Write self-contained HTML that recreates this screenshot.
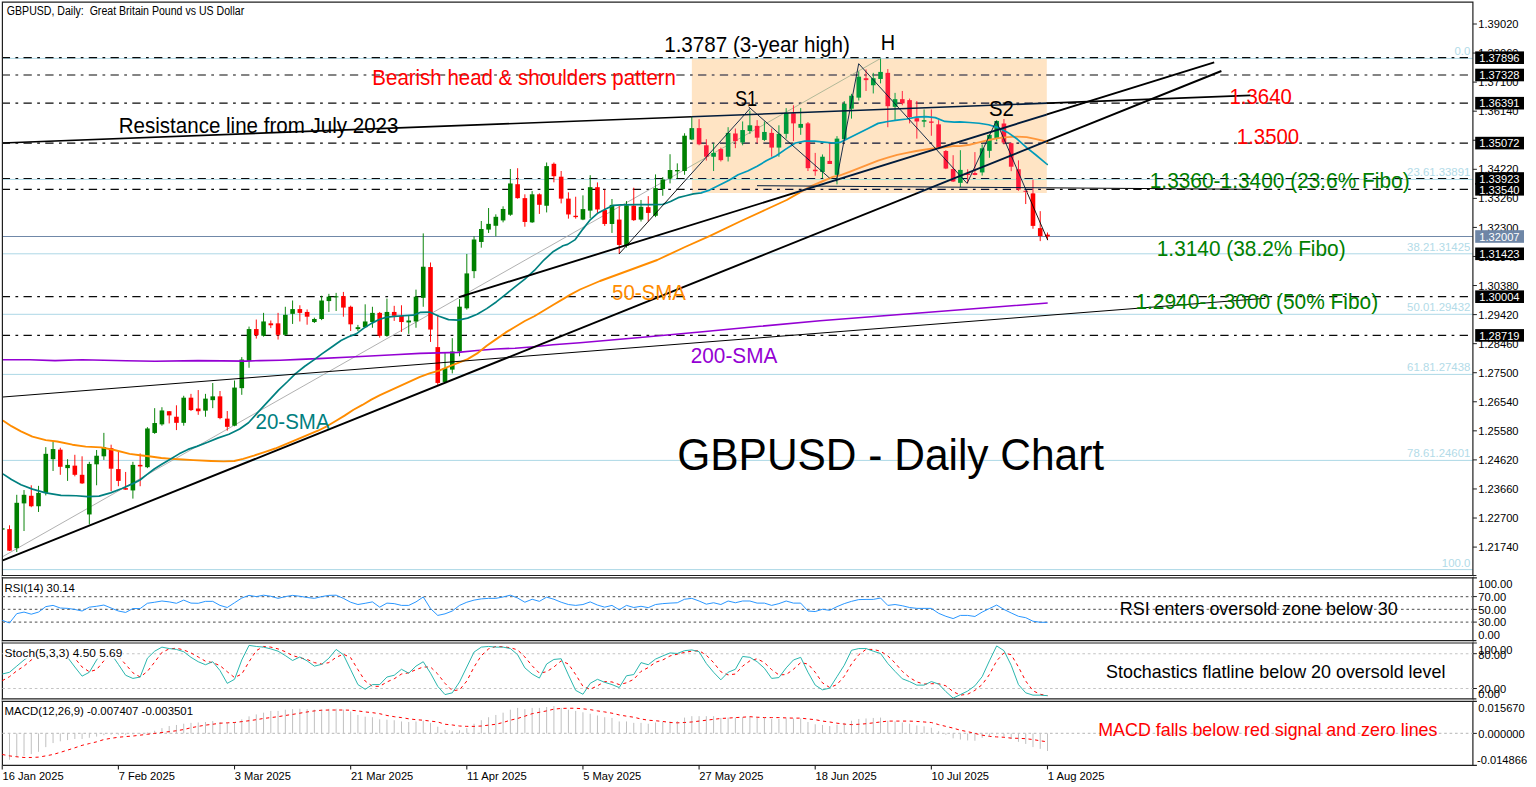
<!DOCTYPE html><html><head><meta charset="utf-8"><title>GBPUSD Daily</title>
<style>html,body{margin:0;padding:0;background:#fff;}svg{display:block;font-family:"Liberation Sans",sans-serif;}</style></head><body>
<svg width="1536" height="787" viewBox="0 0 1536 787">
<rect width="1536" height="787" fill="#fff"/>
<defs><clipPath id="rc"><rect x="691.6" y="58.9" width="355.30000000000007" height="134.2"/></clipPath>
<clipPath id="mc"><rect x="2.4" y="2" width="1470.5" height="574"/></clipPath></defs>
<g clip-path="url(#mc)">
<line x1="2.4" y1="58.4" x2="1472.9" y2="58.4" stroke="#ADD8E6" stroke-width="1"/>
<line x1="2.4" y1="179.4" x2="1472.9" y2="179.4" stroke="#ADD8E6" stroke-width="1"/>
<line x1="2.4" y1="253.8" x2="1472.9" y2="253.8" stroke="#ADD8E6" stroke-width="1"/>
<line x1="2.4" y1="314.3" x2="1472.9" y2="314.3" stroke="#ADD8E6" stroke-width="1"/>
<line x1="2.4" y1="374.4" x2="1472.9" y2="374.4" stroke="#ADD8E6" stroke-width="1"/>
<line x1="2.4" y1="460.4" x2="1472.9" y2="460.4" stroke="#ADD8E6" stroke-width="1"/>
<line x1="2.4" y1="569.6" x2="1472.9" y2="569.6" stroke="#ADD8E6" stroke-width="1"/>
<line x1="2.4" y1="236.5" x2="1472.9" y2="236.5" stroke="#7088A8" stroke-width="1"/>
<line x1="1.74" y1="57.7" x2="1472.9" y2="57.7" stroke="#0a0a0a" stroke-width="1.2" stroke-dasharray="8.3 5.4 2.75 5.31"/>
<line x1="1.74" y1="75" x2="1472.9" y2="75" stroke="#0a0a0a" stroke-width="1.2" stroke-dasharray="8.3 5.4 2.75 5.31"/>
<line x1="1.74" y1="103.2" x2="1472.9" y2="103.2" stroke="#0a0a0a" stroke-width="1.2" stroke-dasharray="8.3 5.4 2.75 5.31"/>
<line x1="1.74" y1="143.1" x2="1472.9" y2="143.1" stroke="#0a0a0a" stroke-width="1.2" stroke-dasharray="8.3 5.4 2.75 5.31"/>
<line x1="1.74" y1="178.5" x2="1472.9" y2="178.5" stroke="#0a0a0a" stroke-width="1.2" stroke-dasharray="8.3 5.4 2.75 5.31"/>
<line x1="1.74" y1="189.3" x2="1472.9" y2="189.3" stroke="#0a0a0a" stroke-width="1.2" stroke-dasharray="8.3 5.4 2.75 5.31"/>
<line x1="1.74" y1="296.7" x2="1472.9" y2="296.7" stroke="#0a0a0a" stroke-width="1.2" stroke-dasharray="8.3 5.4 2.75 5.31"/>
<line x1="1.74" y1="335.4" x2="1472.9" y2="335.4" stroke="#0a0a0a" stroke-width="1.2" stroke-dasharray="8.3 5.4 2.75 5.31"/>
<line x1="2.4" y1="556.8" x2="880.3" y2="58.6" stroke="#A8A8A8" stroke-width="0.9"/>
<line x1="9.5" y1="525.3" x2="9.5" y2="551.03" stroke="#FF0000" stroke-width="0.95"/>
<rect x="7.2" y="529.12" width="4.6" height="21.54" fill="#FF0000"/>
<line x1="16.76" y1="494.81" x2="16.76" y2="551.99" stroke="#008000" stroke-width="0.95"/>
<rect x="14.46" y="502.81" width="4.6" height="45.36" fill="#008000"/>
<line x1="24.02" y1="490.05" x2="24.02" y2="531.02" stroke="#008000" stroke-width="0.95"/>
<rect x="21.72" y="494.81" width="4.6" height="8.58" fill="#008000"/>
<line x1="31.27" y1="485.28" x2="31.27" y2="507.2" stroke="#FF0000" stroke-width="0.95"/>
<rect x="28.97" y="495.76" width="4.6" height="10.48" fill="#FF0000"/>
<line x1="38.53" y1="485.85" x2="38.53" y2="511.96" stroke="#008000" stroke-width="0.95"/>
<rect x="36.23" y="492.9" width="4.6" height="13.34" fill="#008000"/>
<line x1="45.79" y1="447.16" x2="45.79" y2="495.38" stroke="#008000" stroke-width="0.95"/>
<rect x="43.49" y="453.83" width="4.6" height="39.07" fill="#008000"/>
<line x1="53.05" y1="441.45" x2="53.05" y2="470.99" stroke="#008000" stroke-width="0.95"/>
<rect x="50.75" y="449.07" width="4.6" height="10.1" fill="#008000"/>
<line x1="60.31" y1="447.74" x2="60.31" y2="474.8" stroke="#FF0000" stroke-width="0.95"/>
<rect x="58.01" y="449.64" width="4.6" height="17.15" fill="#FF0000"/>
<line x1="67.57" y1="459.17" x2="67.57" y2="480.9" stroke="#008000" stroke-width="0.95"/>
<rect x="65.27" y="464.89" width="4.6" height="3.24" fill="#008000"/>
<line x1="74.83" y1="454.79" x2="74.83" y2="476.32" stroke="#FF0000" stroke-width="0.95"/>
<rect x="72.53" y="465.65" width="4.6" height="9.15" fill="#FF0000"/>
<line x1="82.09" y1="456.31" x2="82.09" y2="483.95" stroke="#FF0000" stroke-width="0.95"/>
<rect x="79.79" y="474.8" width="4.6" height="8.58" fill="#FF0000"/>
<line x1="89.34" y1="461.84" x2="89.34" y2="524.35" stroke="#008000" stroke-width="0.95"/>
<rect x="87.04" y="463.94" width="4.6" height="50.51" fill="#008000"/>
<line x1="96.6" y1="450.02" x2="96.6" y2="485.28" stroke="#008000" stroke-width="0.95"/>
<rect x="94.3" y="455.74" width="4.6" height="8.58" fill="#008000"/>
<line x1="103.86" y1="432.87" x2="103.86" y2="459.93" stroke="#008000" stroke-width="0.95"/>
<rect x="101.56" y="447.16" width="4.6" height="9.15" fill="#008000"/>
<line x1="111.12" y1="444.69" x2="111.12" y2="491" stroke="#FF0000" stroke-width="0.95"/>
<rect x="108.82" y="448.12" width="4.6" height="20.58" fill="#FF0000"/>
<line x1="118.38" y1="450.98" x2="118.38" y2="486.23" stroke="#FF0000" stroke-width="0.95"/>
<rect x="116.08" y="469.08" width="4.6" height="11.82" fill="#FF0000"/>
<line x1="125.64" y1="471.94" x2="125.64" y2="489.66" stroke="#FF0000" stroke-width="0.95"/>
<rect x="123.34" y="488.14" width="4.6" height="1.52" fill="#FF0000"/>
<line x1="132.9" y1="461.84" x2="132.9" y2="498.62" stroke="#008000" stroke-width="0.95"/>
<rect x="130.6" y="464.89" width="4.6" height="25.54" fill="#008000"/>
<line x1="140.16" y1="453.45" x2="140.16" y2="486.23" stroke="#FF0000" stroke-width="0.95"/>
<rect x="137.86" y="464.89" width="4.6" height="1.52" fill="#FF0000"/>
<line x1="147.41" y1="427.15" x2="147.41" y2="468.13" stroke="#008000" stroke-width="0.95"/>
<rect x="145.11" y="428.49" width="4.6" height="38.69" fill="#008000"/>
<line x1="154.67" y1="408.16" x2="154.67" y2="433.89" stroke="#008000" stroke-width="0.95"/>
<rect x="152.37" y="423.03" width="4.6" height="9.91" fill="#008000"/>
<line x1="161.93" y1="407.21" x2="161.93" y2="425.7" stroke="#008000" stroke-width="0.95"/>
<rect x="159.63" y="410.45" width="4.6" height="13.91" fill="#008000"/>
<line x1="169.19" y1="411.02" x2="169.19" y2="423.41" stroke="#FF0000" stroke-width="0.95"/>
<rect x="166.89" y="411.21" width="4.6" height="4.19" fill="#FF0000"/>
<line x1="176.45" y1="405.3" x2="176.45" y2="430.08" stroke="#FF0000" stroke-width="0.95"/>
<rect x="174.15" y="416.74" width="4.6" height="6.1" fill="#FF0000"/>
<line x1="183.71" y1="395.77" x2="183.71" y2="425.7" stroke="#008000" stroke-width="0.95"/>
<rect x="181.41" y="397.68" width="4.6" height="25.16" fill="#008000"/>
<line x1="190.97" y1="393.87" x2="190.97" y2="411.02" stroke="#FF0000" stroke-width="0.95"/>
<rect x="188.67" y="397.68" width="4.6" height="12.39" fill="#FF0000"/>
<line x1="198.22" y1="390.06" x2="198.22" y2="414.83" stroke="#FF0000" stroke-width="0.95"/>
<rect x="195.92" y="408.54" width="4.6" height="2.67" fill="#FF0000"/>
<line x1="205.48" y1="393.87" x2="205.48" y2="416.74" stroke="#008000" stroke-width="0.95"/>
<rect x="203.18" y="398.63" width="4.6" height="12.01" fill="#008000"/>
<line x1="212.74" y1="383.01" x2="212.74" y2="408.16" stroke="#008000" stroke-width="0.95"/>
<rect x="210.44" y="396.35" width="4.6" height="3.81" fill="#008000"/>
<line x1="220" y1="391.01" x2="220" y2="419.22" stroke="#FF0000" stroke-width="0.95"/>
<rect x="217.7" y="396.35" width="4.6" height="21.73" fill="#FF0000"/>
<line x1="227.26" y1="411.02" x2="227.26" y2="430.65" stroke="#FF0000" stroke-width="0.95"/>
<rect x="224.96" y="418.64" width="4.6" height="8.2" fill="#FF0000"/>
<line x1="234.52" y1="380.53" x2="234.52" y2="426.27" stroke="#008000" stroke-width="0.95"/>
<rect x="232.22" y="387.58" width="4.6" height="38.12" fill="#008000"/>
<line x1="241.78" y1="357.09" x2="241.78" y2="394.82" stroke="#008000" stroke-width="0.95"/>
<rect x="239.48" y="359.56" width="4.6" height="28.59" fill="#008000"/>
<line x1="249.04" y1="326.59" x2="249.04" y2="367.76" stroke="#008000" stroke-width="0.95"/>
<rect x="246.74" y="329.07" width="4.6" height="31.83" fill="#008000"/>
<line x1="256.29" y1="319.54" x2="256.29" y2="338.6" stroke="#FF0000" stroke-width="0.95"/>
<rect x="253.99" y="329.07" width="4.6" height="6.1" fill="#FF0000"/>
<line x1="263.55" y1="312.87" x2="263.55" y2="336.69" stroke="#008000" stroke-width="0.95"/>
<rect x="261.25" y="321.45" width="4.6" height="14.29" fill="#008000"/>
<line x1="270.81" y1="320.49" x2="270.81" y2="328.12" stroke="#FF0000" stroke-width="0.95"/>
<rect x="268.51" y="323.35" width="4.6" height="1.91" fill="#FF0000"/>
<line x1="278.07" y1="312.87" x2="278.07" y2="339.55" stroke="#FF0000" stroke-width="0.95"/>
<rect x="275.77" y="323.35" width="4.6" height="11.44" fill="#FF0000"/>
<line x1="285.33" y1="306.79" x2="285.33" y2="335.76" stroke="#008000" stroke-width="0.95"/>
<rect x="283.03" y="314.8" width="4.6" height="20.01" fill="#008000"/>
<line x1="292.59" y1="300.51" x2="292.59" y2="323.95" stroke="#008000" stroke-width="0.95"/>
<rect x="290.29" y="309.08" width="4.6" height="4.76" fill="#008000"/>
<line x1="299.85" y1="305.27" x2="299.85" y2="321.47" stroke="#FF0000" stroke-width="0.95"/>
<rect x="297.55" y="309.08" width="4.6" height="3.81" fill="#FF0000"/>
<line x1="307.11" y1="309.46" x2="307.11" y2="324.71" stroke="#FF0000" stroke-width="0.95"/>
<rect x="304.81" y="311.94" width="4.6" height="4.76" fill="#FF0000"/>
<line x1="314.36" y1="317.66" x2="314.36" y2="322.99" stroke="#008000" stroke-width="0.95"/>
<rect x="312.06" y="318.99" width="4.6" height="3.05" fill="#008000"/>
<line x1="321.62" y1="295.74" x2="321.62" y2="320.14" stroke="#008000" stroke-width="0.95"/>
<rect x="319.32" y="300.51" width="4.6" height="18.49" fill="#008000"/>
<line x1="328.88" y1="293.83" x2="328.88" y2="311.94" stroke="#008000" stroke-width="0.95"/>
<rect x="326.58" y="296.69" width="4.6" height="4.38" fill="#008000"/>
<line x1="336.14" y1="292.88" x2="336.14" y2="310.99" stroke="#008000" stroke-width="0.95"/>
<rect x="333.84" y="296.31" width="4.6" height="1" fill="#008000"/>
<line x1="343.4" y1="291.93" x2="343.4" y2="316.7" stroke="#FF0000" stroke-width="0.95"/>
<rect x="341.1" y="296.12" width="4.6" height="11.44" fill="#FF0000"/>
<line x1="350.66" y1="305.65" x2="350.66" y2="331" stroke="#FF0000" stroke-width="0.95"/>
<rect x="348.36" y="306.79" width="4.6" height="17.53" fill="#FF0000"/>
<line x1="357.92" y1="324.9" x2="357.92" y2="331" stroke="#008000" stroke-width="0.95"/>
<rect x="355.62" y="327.19" width="4.6" height="1.91" fill="#008000"/>
<line x1="365.18" y1="304.32" x2="365.18" y2="327.76" stroke="#008000" stroke-width="0.95"/>
<rect x="362.88" y="321.47" width="4.6" height="5.72" fill="#008000"/>
<line x1="372.43" y1="306.79" x2="372.43" y2="327.76" stroke="#008000" stroke-width="0.95"/>
<rect x="370.13" y="312.89" width="4.6" height="9.15" fill="#008000"/>
<line x1="379.69" y1="311.94" x2="379.69" y2="337.67" stroke="#FF0000" stroke-width="0.95"/>
<rect x="377.39" y="312.89" width="4.6" height="22.87" fill="#FF0000"/>
<line x1="386.95" y1="298.6" x2="386.95" y2="336.72" stroke="#008000" stroke-width="0.95"/>
<rect x="384.65" y="311.94" width="4.6" height="23.82" fill="#008000"/>
<line x1="394.21" y1="305.84" x2="394.21" y2="320.9" stroke="#FF0000" stroke-width="0.95"/>
<rect x="391.91" y="311.94" width="4.6" height="3.81" fill="#FF0000"/>
<line x1="401.47" y1="305.27" x2="401.47" y2="331.95" stroke="#FF0000" stroke-width="0.95"/>
<rect x="399.17" y="315.75" width="4.6" height="6.29" fill="#FF0000"/>
<line x1="408.73" y1="315.75" x2="408.73" y2="333.86" stroke="#008000" stroke-width="0.95"/>
<rect x="406.43" y="320.52" width="4.6" height="1.91" fill="#008000"/>
<line x1="415.99" y1="289.64" x2="415.99" y2="327.76" stroke="#008000" stroke-width="0.95"/>
<rect x="413.69" y="296.69" width="4.6" height="24.78" fill="#008000"/>
<line x1="423.24" y1="233.39" x2="423.24" y2="306.76" stroke="#008000" stroke-width="0.95"/>
<rect x="420.94" y="266.74" width="4.6" height="31.07" fill="#008000"/>
<line x1="430.5" y1="262.49" x2="430.5" y2="341.96" stroke="#FF0000" stroke-width="0.95"/>
<rect x="428.2" y="267.06" width="4.6" height="62.51" fill="#FF0000"/>
<line x1="437.76" y1="315.28" x2="437.76" y2="384.84" stroke="#FF0000" stroke-width="0.95"/>
<rect x="435.46" y="347.11" width="4.6" height="35.83" fill="#FF0000"/>
<line x1="445.02" y1="352.45" x2="445.02" y2="382.56" stroke="#008000" stroke-width="0.95"/>
<rect x="442.72" y="368.07" width="4.6" height="13.91" fill="#008000"/>
<line x1="452.28" y1="338.15" x2="452.28" y2="373.41" stroke="#008000" stroke-width="0.95"/>
<rect x="449.98" y="351.49" width="4.6" height="18.11" fill="#008000"/>
<line x1="459.54" y1="299.08" x2="459.54" y2="356.26" stroke="#008000" stroke-width="0.95"/>
<rect x="457.24" y="306.7" width="4.6" height="44.79" fill="#008000"/>
<line x1="466.8" y1="253.97" x2="466.8" y2="309.62" stroke="#008000" stroke-width="0.95"/>
<rect x="464.5" y="273.41" width="4.6" height="34.88" fill="#008000"/>
<line x1="474.06" y1="236.25" x2="474.06" y2="278.17" stroke="#008000" stroke-width="0.95"/>
<rect x="471.76" y="239.49" width="4.6" height="31.64" fill="#008000"/>
<line x1="481.31" y1="221" x2="481.31" y2="247.68" stroke="#008000" stroke-width="0.95"/>
<rect x="479.01" y="229" width="4.6" height="12.96" fill="#008000"/>
<line x1="488.57" y1="208.04" x2="488.57" y2="233.01" stroke="#008000" stroke-width="0.95"/>
<rect x="486.27" y="223.86" width="4.6" height="5.72" fill="#008000"/>
<line x1="495.83" y1="214.33" x2="495.83" y2="236.25" stroke="#008000" stroke-width="0.95"/>
<rect x="493.53" y="216.81" width="4.6" height="8.96" fill="#008000"/>
<line x1="503.09" y1="206.32" x2="503.09" y2="222.33" stroke="#008000" stroke-width="0.95"/>
<rect x="500.79" y="208.99" width="4.6" height="11.44" fill="#008000"/>
<line x1="510.35" y1="168.97" x2="510.35" y2="215.85" stroke="#008000" stroke-width="0.95"/>
<rect x="508.05" y="183.45" width="4.6" height="31.26" fill="#008000"/>
<line x1="517.61" y1="168.21" x2="517.61" y2="198.7" stroke="#FF0000" stroke-width="0.95"/>
<rect x="515.31" y="184.22" width="4.6" height="13.91" fill="#FF0000"/>
<line x1="524.87" y1="194.32" x2="524.87" y2="226.72" stroke="#FF0000" stroke-width="0.95"/>
<rect x="522.57" y="198.13" width="4.6" height="23.82" fill="#FF0000"/>
<line x1="532.13" y1="191.08" x2="532.13" y2="222.9" stroke="#008000" stroke-width="0.95"/>
<rect x="529.83" y="194.32" width="4.6" height="28.02" fill="#008000"/>
<line x1="539.38" y1="193.36" x2="539.38" y2="213.95" stroke="#FF0000" stroke-width="0.95"/>
<rect x="537.08" y="194.32" width="4.6" height="10.48" fill="#FF0000"/>
<line x1="546.64" y1="162.49" x2="546.64" y2="212.42" stroke="#008000" stroke-width="0.95"/>
<rect x="544.34" y="166.11" width="4.6" height="39.64" fill="#008000"/>
<line x1="553.9" y1="162.49" x2="553.9" y2="182.31" stroke="#FF0000" stroke-width="0.95"/>
<rect x="551.6" y="163.82" width="4.6" height="12.39" fill="#FF0000"/>
<line x1="561.16" y1="170.99" x2="561.16" y2="203.39" stroke="#FF0000" stroke-width="0.95"/>
<rect x="558.86" y="176.7" width="4.6" height="21.92" fill="#FF0000"/>
<line x1="568.42" y1="192.33" x2="568.42" y2="218.63" stroke="#FF0000" stroke-width="0.95"/>
<rect x="566.12" y="198.62" width="4.6" height="15.82" fill="#FF0000"/>
<line x1="575.68" y1="196.72" x2="575.68" y2="218.63" stroke="#FF0000" stroke-width="0.95"/>
<rect x="573.38" y="215.77" width="4.6" height="1.33" fill="#FF0000"/>
<line x1="582.94" y1="195.38" x2="582.94" y2="220.16" stroke="#008000" stroke-width="0.95"/>
<rect x="580.64" y="209.1" width="4.6" height="10.48" fill="#008000"/>
<line x1="590.19" y1="175.18" x2="590.19" y2="218.25" stroke="#008000" stroke-width="0.95"/>
<rect x="587.89" y="187.19" width="4.6" height="23.44" fill="#008000"/>
<line x1="597.45" y1="182.42" x2="597.45" y2="212.92" stroke="#FF0000" stroke-width="0.95"/>
<rect x="595.15" y="187.19" width="4.6" height="22.3" fill="#FF0000"/>
<line x1="604.71" y1="189.66" x2="604.71" y2="225.88" stroke="#FF0000" stroke-width="0.95"/>
<rect x="602.41" y="210.06" width="4.6" height="13.91" fill="#FF0000"/>
<line x1="611.97" y1="199" x2="611.97" y2="232.93" stroke="#008000" stroke-width="0.95"/>
<rect x="609.67" y="204.91" width="4.6" height="19.06" fill="#008000"/>
<line x1="619.23" y1="206.25" x2="619.23" y2="253.89" stroke="#FF0000" stroke-width="0.95"/>
<rect x="616.93" y="219.59" width="4.6" height="25.35" fill="#FF0000"/>
<line x1="626.49" y1="201.1" x2="626.49" y2="247.6" stroke="#008000" stroke-width="0.95"/>
<rect x="624.19" y="205.29" width="4.6" height="40.4" fill="#008000"/>
<line x1="633.75" y1="187.76" x2="633.75" y2="220.92" stroke="#FF0000" stroke-width="0.95"/>
<rect x="631.45" y="205.67" width="4.6" height="14.48" fill="#FF0000"/>
<line x1="641.01" y1="199.96" x2="641.01" y2="221.49" stroke="#008000" stroke-width="0.95"/>
<rect x="638.71" y="206.82" width="4.6" height="12.77" fill="#008000"/>
<line x1="648.26" y1="196.14" x2="648.26" y2="221.49" stroke="#FF0000" stroke-width="0.95"/>
<rect x="645.96" y="207.2" width="4.6" height="5.72" fill="#FF0000"/>
<line x1="655.52" y1="174.42" x2="655.52" y2="217.11" stroke="#008000" stroke-width="0.95"/>
<rect x="653.22" y="188.14" width="4.6" height="27.63" fill="#008000"/>
<line x1="662.78" y1="177.09" x2="662.78" y2="195.76" stroke="#008000" stroke-width="0.95"/>
<rect x="660.48" y="179.56" width="4.6" height="9.53" fill="#008000"/>
<line x1="670.04" y1="154.22" x2="670.04" y2="183.38" stroke="#008000" stroke-width="0.95"/>
<rect x="667.74" y="170.03" width="4.6" height="8.58" fill="#008000"/>
<line x1="677.3" y1="163.36" x2="677.3" y2="178.23" stroke="#008000" stroke-width="0.95"/>
<rect x="675" y="170.03" width="4.6" height="1.33" fill="#008000"/>
<line x1="684.56" y1="133.25" x2="684.56" y2="174.8" stroke="#008000" stroke-width="0.95"/>
<rect x="682.26" y="135.73" width="4.6" height="35.26" fill="#008000"/>
<line x1="691.82" y1="116.67" x2="691.82" y2="140.11" stroke="#008000" stroke-width="0.95"/>
<rect x="689.52" y="128.11" width="4.6" height="11.44" fill="#008000"/>
<line x1="699.08" y1="119.15" x2="699.08" y2="145.26" stroke="#FF0000" stroke-width="0.95"/>
<rect x="696.78" y="128.11" width="4.6" height="16.2" fill="#FF0000"/>
<line x1="706.33" y1="139.19" x2="706.33" y2="160.54" stroke="#FF0000" stroke-width="0.95"/>
<rect x="704.03" y="145.29" width="4.6" height="11.44" fill="#FF0000"/>
<line x1="713.59" y1="143.39" x2="713.59" y2="171.02" stroke="#008000" stroke-width="0.95"/>
<rect x="711.29" y="152.92" width="4.6" height="3.81" fill="#008000"/>
<line x1="720.85" y1="147.58" x2="720.85" y2="161.49" stroke="#FF0000" stroke-width="0.95"/>
<rect x="718.55" y="149.1" width="4.6" height="11.05" fill="#FF0000"/>
<line x1="728.11" y1="127.19" x2="728.11" y2="161.49" stroke="#008000" stroke-width="0.95"/>
<rect x="725.81" y="132.9" width="4.6" height="23.82" fill="#008000"/>
<line x1="735.37" y1="128.52" x2="735.37" y2="148.15" stroke="#FF0000" stroke-width="0.95"/>
<rect x="733.07" y="133.48" width="4.6" height="7.62" fill="#FF0000"/>
<line x1="742.63" y1="121.47" x2="742.63" y2="145.29" stroke="#008000" stroke-width="0.95"/>
<rect x="740.33" y="130.05" width="4.6" height="12.39" fill="#008000"/>
<line x1="749.89" y1="110.61" x2="749.89" y2="133.86" stroke="#008000" stroke-width="0.95"/>
<rect x="747.59" y="125.28" width="4.6" height="5.72" fill="#008000"/>
<line x1="757.14" y1="120.14" x2="757.14" y2="143.39" stroke="#FF0000" stroke-width="0.95"/>
<rect x="754.84" y="125.85" width="4.6" height="11.82" fill="#FF0000"/>
<line x1="764.4" y1="121.47" x2="764.4" y2="141.1" stroke="#008000" stroke-width="0.95"/>
<rect x="762.1" y="131.95" width="4.6" height="8" fill="#008000"/>
<line x1="771.66" y1="128.52" x2="771.66" y2="156.73" stroke="#FF0000" stroke-width="0.95"/>
<rect x="769.36" y="132.9" width="4.6" height="14.68" fill="#FF0000"/>
<line x1="778.92" y1="125.28" x2="778.92" y2="156.73" stroke="#008000" stroke-width="0.95"/>
<rect x="776.62" y="133.86" width="4.6" height="13.72" fill="#008000"/>
<line x1="786.18" y1="108.13" x2="786.18" y2="138.62" stroke="#008000" stroke-width="0.95"/>
<rect x="783.88" y="112.89" width="4.6" height="20.96" fill="#008000"/>
<line x1="793.44" y1="105.27" x2="793.44" y2="141.1" stroke="#FF0000" stroke-width="0.95"/>
<rect x="791.14" y="113.27" width="4.6" height="10.1" fill="#FF0000"/>
<line x1="800.7" y1="108.13" x2="800.7" y2="134.81" stroke="#008000" stroke-width="0.95"/>
<rect x="798.4" y="123.95" width="4.6" height="3.81" fill="#008000"/>
<line x1="807.96" y1="122.04" x2="807.96" y2="171.02" stroke="#FF0000" stroke-width="0.95"/>
<rect x="805.66" y="123.38" width="4.6" height="44.79" fill="#FF0000"/>
<line x1="815.21" y1="152.92" x2="815.21" y2="175.79" stroke="#FF0000" stroke-width="0.95"/>
<rect x="812.91" y="169.69" width="4.6" height="1.52" fill="#FF0000"/>
<line x1="822.47" y1="154.44" x2="822.47" y2="178.07" stroke="#008000" stroke-width="0.95"/>
<rect x="820.17" y="156.73" width="4.6" height="15.25" fill="#008000"/>
<line x1="829.73" y1="143.39" x2="829.73" y2="163.97" stroke="#FF0000" stroke-width="0.95"/>
<rect x="827.43" y="160.92" width="4.6" height="3.05" fill="#FF0000"/>
<line x1="836.99" y1="136.14" x2="836.99" y2="184.36" stroke="#008000" stroke-width="0.95"/>
<rect x="834.69" y="138.62" width="4.6" height="36.21" fill="#008000"/>
<line x1="844.25" y1="101.08" x2="844.25" y2="139.57" stroke="#008000" stroke-width="0.95"/>
<rect x="841.95" y="103.74" width="4.6" height="35.45" fill="#008000"/>
<line x1="851.51" y1="93.83" x2="851.51" y2="118.61" stroke="#008000" stroke-width="0.95"/>
<rect x="849.21" y="95.74" width="4.6" height="12.96" fill="#008000"/>
<line x1="858.77" y1="71.35" x2="858.77" y2="100.51" stroke="#008000" stroke-width="0.95"/>
<rect x="856.47" y="76.68" width="4.6" height="20.96" fill="#008000"/>
<line x1="866.03" y1="69.44" x2="866.03" y2="90.98" stroke="#FF0000" stroke-width="0.95"/>
<rect x="863.73" y="78.21" width="4.6" height="1.91" fill="#FF0000"/>
<line x1="873.28" y1="72.87" x2="873.28" y2="93.45" stroke="#008000" stroke-width="0.95"/>
<rect x="870.98" y="78.21" width="4.6" height="7.05" fill="#008000"/>
<line x1="880.54" y1="58.58" x2="880.54" y2="83.35" stroke="#008000" stroke-width="0.95"/>
<rect x="878.24" y="71.92" width="4.6" height="7.05" fill="#008000"/>
<line x1="887.8" y1="69.06" x2="887.8" y2="127.19" stroke="#FF0000" stroke-width="0.95"/>
<rect x="885.5" y="72.87" width="4.6" height="33.35" fill="#FF0000"/>
<line x1="895.06" y1="92.88" x2="895.06" y2="120.14" stroke="#008000" stroke-width="0.95"/>
<rect x="892.76" y="99.17" width="4.6" height="7.62" fill="#008000"/>
<line x1="902.32" y1="90.98" x2="902.32" y2="105.27" stroke="#FF0000" stroke-width="0.95"/>
<rect x="900.02" y="99.17" width="4.6" height="4.19" fill="#FF0000"/>
<line x1="909.58" y1="98.6" x2="909.58" y2="123.38" stroke="#FF0000" stroke-width="0.95"/>
<rect x="907.28" y="100.12" width="4.6" height="16.96" fill="#FF0000"/>
<line x1="916.84" y1="101.08" x2="916.84" y2="138.62" stroke="#FF0000" stroke-width="0.95"/>
<rect x="914.54" y="118.23" width="4.6" height="3.24" fill="#FF0000"/>
<line x1="924.09" y1="109.46" x2="924.09" y2="127.19" stroke="#008000" stroke-width="0.95"/>
<rect x="921.79" y="120.14" width="4.6" height="1.52" fill="#008000"/>
<line x1="931.35" y1="109.46" x2="931.35" y2="135.76" stroke="#FF0000" stroke-width="0.95"/>
<rect x="929.05" y="121.47" width="4.6" height="1.33" fill="#FF0000"/>
<line x1="938.61" y1="120.14" x2="938.61" y2="149.1" stroke="#FF0000" stroke-width="0.95"/>
<rect x="936.31" y="124.33" width="4.6" height="23.82" fill="#FF0000"/>
<line x1="945.87" y1="150.06" x2="945.87" y2="169.12" stroke="#FF0000" stroke-width="0.95"/>
<rect x="943.57" y="151.01" width="4.6" height="17.53" fill="#FF0000"/>
<line x1="953.13" y1="155.2" x2="953.13" y2="181.88" stroke="#FF0000" stroke-width="0.95"/>
<rect x="950.83" y="169.12" width="4.6" height="12.39" fill="#FF0000"/>
<line x1="960.39" y1="150.19" x2="960.39" y2="187.04" stroke="#008000" stroke-width="0.95"/>
<rect x="958.09" y="169.89" width="4.6" height="12.96" fill="#008000"/>
<line x1="967.65" y1="169.25" x2="967.65" y2="183.23" stroke="#FF0000" stroke-width="0.95"/>
<rect x="965.35" y="173.44" width="4.6" height="1.52" fill="#FF0000"/>
<line x1="974.91" y1="152.1" x2="974.91" y2="175.22" stroke="#FF0000" stroke-width="0.95"/>
<rect x="972.61" y="173.06" width="4.6" height="1.91" fill="#FF0000"/>
<line x1="982.16" y1="144.47" x2="982.16" y2="175.6" stroke="#008000" stroke-width="0.95"/>
<rect x="979.86" y="148.28" width="4.6" height="24.14" fill="#008000"/>
<line x1="989.42" y1="134.31" x2="989.42" y2="157.81" stroke="#008000" stroke-width="0.95"/>
<rect x="987.12" y="134.94" width="4.6" height="15.88" fill="#008000"/>
<line x1="996.68" y1="120.08" x2="996.68" y2="141.3" stroke="#008000" stroke-width="0.95"/>
<rect x="994.38" y="120.97" width="4.6" height="17.79" fill="#008000"/>
<line x1="1003.94" y1="119.06" x2="1003.94" y2="144.47" stroke="#FF0000" stroke-width="0.95"/>
<rect x="1001.64" y="123.51" width="4.6" height="19.06" fill="#FF0000"/>
<line x1="1011.2" y1="142.57" x2="1011.2" y2="171.16" stroke="#FF0000" stroke-width="0.95"/>
<rect x="1008.9" y="143.2" width="4.6" height="23.51" fill="#FF0000"/>
<line x1="1018.46" y1="160.36" x2="1018.46" y2="190.85" stroke="#FF0000" stroke-width="0.95"/>
<rect x="1016.16" y="169.25" width="4.6" height="20.33" fill="#FF0000"/>
<line x1="1025.72" y1="190.33" x2="1025.72" y2="204.04" stroke="#FF0000" stroke-width="0.95"/>
<rect x="1023.42" y="190.83" width="4.6" height="1" fill="#FF0000"/>
<line x1="1032.98" y1="179.65" x2="1032.98" y2="228.74" stroke="#FF0000" stroke-width="0.95"/>
<rect x="1030.68" y="193.37" width="4.6" height="32.52" fill="#FF0000"/>
<line x1="1040.23" y1="211.16" x2="1040.23" y2="241.14" stroke="#FF0000" stroke-width="0.95"/>
<rect x="1037.93" y="228.13" width="4.6" height="7.93" fill="#FF0000"/>
<line x1="1047.49" y1="232.5" x2="1047.49" y2="240.12" stroke="#FF0000" stroke-width="0.95"/>
<rect x="1045.19" y="234.63" width="4.6" height="1.83" fill="#FF0000"/>
<rect x="2.6" y="528.3" width="2.0" height="1.3" fill="#008000"/>
<polyline fill="none" stroke="#9400D3" stroke-width="1.6" stroke-linejoin="round" points="2.6,359.8 30,359.8 55,360.6 82,359.8 126,360.8 155,361.3 198,360.6 246,361.1 260,360.6 280,360.2 300,359.4 318,358.6 356,356.7 394,354.8 420,353.4 458,352.4 477,350.5 496,349 515,348.2 534,346.7 553,344.8 580,342.7 640,337.5 700,332 760,326.3 820,320.8 900,314.5 980,308.2 1047.7,303"/>
<polyline fill="none" stroke="#FF8C00" stroke-width="1.9" stroke-linejoin="round" points="2.86,420.48 11.44,426.2 20.96,431.35 32.4,436.68 45.74,440.11 57.18,441.45 72.42,444.69 85.76,446.59 101.01,447.35 114.35,450.02 129.6,453.83 140,455.28 150.67,456.53 161.35,457.95 172.02,458.84 182.7,459.55 193.37,460.09 211.16,460.97 223.62,461.33 234.29,460.97 243.18,458.84 253.86,455.64 264.53,452.08 275.21,448.52 285.88,444.07 296.56,439.63 307.23,435.18 317.9,430.73 326.8,426.28 335.69,420.95 344.59,415.61 353.49,409.74 362.38,404.94 371.28,399.6 379.99,395.15 420,376.84 429.53,373.41 439.06,370.55 448.59,366.74 458.12,362.93 467.65,359.12 477.18,353.4 486.7,345.77 496.23,339.1 505.76,332.43 515.29,326.72 524.82,321 534.35,316.23 543.88,310.52 553.41,304.8 562.94,299.08 569.99,294.89 580,289.5 600,281 630,270 657.2,260 685,247 710,235.8 740,221.5 765,210 786.7,200 799.1,192.94 810.54,186.27 821.97,181.5 833.41,176.74 840,175.4 849.53,171.97 859.06,168.16 868.59,164.35 878.12,160.54 887.65,157.68 897.18,154.82 906.7,152.92 916.23,151.01 925.76,149.49 935.29,148.15 944.82,147.2 954.35,145.86 960,146.12 969.53,144.79 979.06,142.31 988.59,140.02 998.12,138.12 1007.65,137.16 1017.18,136.59 1026.7,137.16 1036.23,139.07 1043.86,140.98 1047.67,142.5"/>
<polyline fill="none" stroke="#008080" stroke-width="1.7" stroke-linejoin="round" points="2.86,473.85 11.44,479.56 20.96,484.71 32.4,489.09 45.74,492.9 60.99,495.38 76.23,495.76 87.67,496.72 99.1,496.14 110.54,492.9 121.97,488.52 133.41,483.38 140,480.01 147.12,474.32 154.23,468.98 161.35,464.53 170.24,459.2 179.14,453.86 188.03,449.41 196.93,446.39 207.6,442.29 218.28,437.85 228.95,434.29 239.63,428.95 248.52,422.73 257.42,412.94 268.09,401.38 278.77,389.81 287.62,381.5 295.25,373.88 304.78,366.26 314.31,359.59 321.93,353.87 331.46,347.2 340.99,340.53 348.61,336.72 356.23,333.86 363.86,328.14 371.48,323.38 379.1,319.56 386.73,317.09 394.35,316.32 403.88,315.75 413.41,315.18 420,312.42 429.53,312.04 439.06,316.23 448.59,319.66 458.12,320.05 467.65,318.14 477.18,314.33 486.7,308.61 496.23,301.94 505.76,294.32 515.29,286.69 524.82,279.07 534.35,270.49 543.88,260.01 553.41,251.44 560,247.6 562.94,245.72 567.62,244.36 575.25,239.6 582.87,229.12 590.49,219.59 598.12,212.92 605.74,209.1 613.36,205.29 620.99,204.91 636.23,204.72 651.48,204.72 662.92,204.34 670.54,201.48 678.16,197.67 685.79,195.76 693.41,193.86 701.03,192.9 709.53,190.08 719.06,185.32 728.59,180.55 738.12,174.83 747.65,171.02 757.18,166.26 766.7,160.54 776.23,155.77 785.76,149.1 795.29,143.01 804.82,141.1 814.35,141.1 823.88,142.05 833.41,143.01 840,142.43 849.53,137.67 859.06,132.9 868.59,128.14 878.12,123.38 887.65,121.47 897.18,120.14 906.7,118.99 916.23,117.09 925.76,116.7 935.29,117.66 944.82,121.47 954.35,122.04 960,121.92 969.53,122.49 979.06,123.25 988.59,124.78 998.12,127.63 1007.65,132.4 1017.18,139.07 1026.7,147.65 1036.23,155.27 1047.67,164.8"/>
<line x1="2.9" y1="397" x2="1265.3" y2="298.3" stroke="#000000" stroke-width="1"/>
<line x1="2.4" y1="143.0" x2="1250.6" y2="95.4" stroke="#000000" stroke-width="1.6"/>
<line x1="2.8" y1="560.3" x2="1221.4" y2="71" stroke="#000000" stroke-width="1.9"/>
<line x1="459" y1="297.2" x2="1214.2" y2="62.4" stroke="#000000" stroke-width="1.9"/>
<line x1="757" y1="185.7" x2="1250.6" y2="189.3" stroke="#000000" stroke-width="1"/>
<line x1="619.1" y1="253.9" x2="750.5" y2="108.0" stroke="#000000" stroke-width="0.9"/>
<line x1="748.6" y1="106.8" x2="829.6" y2="178.1" stroke="#000000" stroke-width="0.9"/>
<line x1="836.3" y1="181.5" x2="858.7" y2="63.7" stroke="#000000" stroke-width="0.9"/>
<line x1="858.7" y1="63.7" x2="967.1" y2="183.4" stroke="#000000" stroke-width="0.9"/>
<line x1="967.1" y1="183.4" x2="996.2" y2="121" stroke="#000000" stroke-width="0.9"/>
<line x1="996.2" y1="121" x2="1047.7" y2="240.1" stroke="#000000" stroke-width="0.9"/>
</g>
<g clip-path="url(#rc)"><rect x="691.6" y="58.9" width="355.30000000000007" height="134.2" fill="#FFE4C4"/>
<line x1="2.4" y1="58.4" x2="1472.9" y2="58.4" stroke="#A8E6D6" stroke-width="1"/>
<line x1="2.4" y1="179.4" x2="1472.9" y2="179.4" stroke="#A8E6D6" stroke-width="1"/>
<line x1="2.4" y1="253.8" x2="1472.9" y2="253.8" stroke="#A8E6D6" stroke-width="1"/>
<line x1="2.4" y1="314.3" x2="1472.9" y2="314.3" stroke="#A8E6D6" stroke-width="1"/>
<line x1="2.4" y1="374.4" x2="1472.9" y2="374.4" stroke="#A8E6D6" stroke-width="1"/>
<line x1="2.4" y1="460.4" x2="1472.9" y2="460.4" stroke="#A8E6D6" stroke-width="1"/>
<line x1="2.4" y1="569.6" x2="1472.9" y2="569.6" stroke="#A8E6D6" stroke-width="1"/>
<line x1="2.4" y1="236.5" x2="1472.9" y2="236.5" stroke="#709393" stroke-width="1"/>
<line x1="1.74" y1="57.7" x2="1472.9" y2="57.7" stroke="#0A1131" stroke-width="1.2" stroke-dasharray="8.3 5.4 2.75 5.31"/>
<line x1="1.74" y1="75" x2="1472.9" y2="75" stroke="#0A1131" stroke-width="1.2" stroke-dasharray="8.3 5.4 2.75 5.31"/>
<line x1="1.74" y1="103.2" x2="1472.9" y2="103.2" stroke="#0A1131" stroke-width="1.2" stroke-dasharray="8.3 5.4 2.75 5.31"/>
<line x1="1.74" y1="143.1" x2="1472.9" y2="143.1" stroke="#0A1131" stroke-width="1.2" stroke-dasharray="8.3 5.4 2.75 5.31"/>
<line x1="1.74" y1="178.5" x2="1472.9" y2="178.5" stroke="#0A1131" stroke-width="1.2" stroke-dasharray="8.3 5.4 2.75 5.31"/>
<line x1="1.74" y1="189.3" x2="1472.9" y2="189.3" stroke="#0A1131" stroke-width="1.2" stroke-dasharray="8.3 5.4 2.75 5.31"/>
<line x1="1.74" y1="296.7" x2="1472.9" y2="296.7" stroke="#0A1131" stroke-width="1.2" stroke-dasharray="8.3 5.4 2.75 5.31"/>
<line x1="1.74" y1="335.4" x2="1472.9" y2="335.4" stroke="#0A1131" stroke-width="1.2" stroke-dasharray="8.3 5.4 2.75 5.31"/>
<line x1="2.4" y1="556.8" x2="880.3" y2="58.6" stroke="#A8B393" stroke-width="0.9"/>
<line x1="9.5" y1="525.3" x2="9.5" y2="551.03" stroke="#FF1B3B" stroke-width="0.95"/>
<rect x="7.2" y="529.12" width="4.6" height="21.54" fill="#FF1B3B"/>
<line x1="16.76" y1="494.81" x2="16.76" y2="551.99" stroke="#009B3B" stroke-width="0.95"/>
<rect x="14.46" y="502.81" width="4.6" height="45.36" fill="#009B3B"/>
<line x1="24.02" y1="490.05" x2="24.02" y2="531.02" stroke="#009B3B" stroke-width="0.95"/>
<rect x="21.72" y="494.81" width="4.6" height="8.58" fill="#009B3B"/>
<line x1="31.27" y1="485.28" x2="31.27" y2="507.2" stroke="#FF1B3B" stroke-width="0.95"/>
<rect x="28.97" y="495.76" width="4.6" height="10.48" fill="#FF1B3B"/>
<line x1="38.53" y1="485.85" x2="38.53" y2="511.96" stroke="#009B3B" stroke-width="0.95"/>
<rect x="36.23" y="492.9" width="4.6" height="13.34" fill="#009B3B"/>
<line x1="45.79" y1="447.16" x2="45.79" y2="495.38" stroke="#009B3B" stroke-width="0.95"/>
<rect x="43.49" y="453.83" width="4.6" height="39.07" fill="#009B3B"/>
<line x1="53.05" y1="441.45" x2="53.05" y2="470.99" stroke="#009B3B" stroke-width="0.95"/>
<rect x="50.75" y="449.07" width="4.6" height="10.1" fill="#009B3B"/>
<line x1="60.31" y1="447.74" x2="60.31" y2="474.8" stroke="#FF1B3B" stroke-width="0.95"/>
<rect x="58.01" y="449.64" width="4.6" height="17.15" fill="#FF1B3B"/>
<line x1="67.57" y1="459.17" x2="67.57" y2="480.9" stroke="#009B3B" stroke-width="0.95"/>
<rect x="65.27" y="464.89" width="4.6" height="3.24" fill="#009B3B"/>
<line x1="74.83" y1="454.79" x2="74.83" y2="476.32" stroke="#FF1B3B" stroke-width="0.95"/>
<rect x="72.53" y="465.65" width="4.6" height="9.15" fill="#FF1B3B"/>
<line x1="82.09" y1="456.31" x2="82.09" y2="483.95" stroke="#FF1B3B" stroke-width="0.95"/>
<rect x="79.79" y="474.8" width="4.6" height="8.58" fill="#FF1B3B"/>
<line x1="89.34" y1="461.84" x2="89.34" y2="524.35" stroke="#009B3B" stroke-width="0.95"/>
<rect x="87.04" y="463.94" width="4.6" height="50.51" fill="#009B3B"/>
<line x1="96.6" y1="450.02" x2="96.6" y2="485.28" stroke="#009B3B" stroke-width="0.95"/>
<rect x="94.3" y="455.74" width="4.6" height="8.58" fill="#009B3B"/>
<line x1="103.86" y1="432.87" x2="103.86" y2="459.93" stroke="#009B3B" stroke-width="0.95"/>
<rect x="101.56" y="447.16" width="4.6" height="9.15" fill="#009B3B"/>
<line x1="111.12" y1="444.69" x2="111.12" y2="491" stroke="#FF1B3B" stroke-width="0.95"/>
<rect x="108.82" y="448.12" width="4.6" height="20.58" fill="#FF1B3B"/>
<line x1="118.38" y1="450.98" x2="118.38" y2="486.23" stroke="#FF1B3B" stroke-width="0.95"/>
<rect x="116.08" y="469.08" width="4.6" height="11.82" fill="#FF1B3B"/>
<line x1="125.64" y1="471.94" x2="125.64" y2="489.66" stroke="#FF1B3B" stroke-width="0.95"/>
<rect x="123.34" y="488.14" width="4.6" height="1.52" fill="#FF1B3B"/>
<line x1="132.9" y1="461.84" x2="132.9" y2="498.62" stroke="#009B3B" stroke-width="0.95"/>
<rect x="130.6" y="464.89" width="4.6" height="25.54" fill="#009B3B"/>
<line x1="140.16" y1="453.45" x2="140.16" y2="486.23" stroke="#FF1B3B" stroke-width="0.95"/>
<rect x="137.86" y="464.89" width="4.6" height="1.52" fill="#FF1B3B"/>
<line x1="147.41" y1="427.15" x2="147.41" y2="468.13" stroke="#009B3B" stroke-width="0.95"/>
<rect x="145.11" y="428.49" width="4.6" height="38.69" fill="#009B3B"/>
<line x1="154.67" y1="408.16" x2="154.67" y2="433.89" stroke="#009B3B" stroke-width="0.95"/>
<rect x="152.37" y="423.03" width="4.6" height="9.91" fill="#009B3B"/>
<line x1="161.93" y1="407.21" x2="161.93" y2="425.7" stroke="#009B3B" stroke-width="0.95"/>
<rect x="159.63" y="410.45" width="4.6" height="13.91" fill="#009B3B"/>
<line x1="169.19" y1="411.02" x2="169.19" y2="423.41" stroke="#FF1B3B" stroke-width="0.95"/>
<rect x="166.89" y="411.21" width="4.6" height="4.19" fill="#FF1B3B"/>
<line x1="176.45" y1="405.3" x2="176.45" y2="430.08" stroke="#FF1B3B" stroke-width="0.95"/>
<rect x="174.15" y="416.74" width="4.6" height="6.1" fill="#FF1B3B"/>
<line x1="183.71" y1="395.77" x2="183.71" y2="425.7" stroke="#009B3B" stroke-width="0.95"/>
<rect x="181.41" y="397.68" width="4.6" height="25.16" fill="#009B3B"/>
<line x1="190.97" y1="393.87" x2="190.97" y2="411.02" stroke="#FF1B3B" stroke-width="0.95"/>
<rect x="188.67" y="397.68" width="4.6" height="12.39" fill="#FF1B3B"/>
<line x1="198.22" y1="390.06" x2="198.22" y2="414.83" stroke="#FF1B3B" stroke-width="0.95"/>
<rect x="195.92" y="408.54" width="4.6" height="2.67" fill="#FF1B3B"/>
<line x1="205.48" y1="393.87" x2="205.48" y2="416.74" stroke="#009B3B" stroke-width="0.95"/>
<rect x="203.18" y="398.63" width="4.6" height="12.01" fill="#009B3B"/>
<line x1="212.74" y1="383.01" x2="212.74" y2="408.16" stroke="#009B3B" stroke-width="0.95"/>
<rect x="210.44" y="396.35" width="4.6" height="3.81" fill="#009B3B"/>
<line x1="220" y1="391.01" x2="220" y2="419.22" stroke="#FF1B3B" stroke-width="0.95"/>
<rect x="217.7" y="396.35" width="4.6" height="21.73" fill="#FF1B3B"/>
<line x1="227.26" y1="411.02" x2="227.26" y2="430.65" stroke="#FF1B3B" stroke-width="0.95"/>
<rect x="224.96" y="418.64" width="4.6" height="8.2" fill="#FF1B3B"/>
<line x1="234.52" y1="380.53" x2="234.52" y2="426.27" stroke="#009B3B" stroke-width="0.95"/>
<rect x="232.22" y="387.58" width="4.6" height="38.12" fill="#009B3B"/>
<line x1="241.78" y1="357.09" x2="241.78" y2="394.82" stroke="#009B3B" stroke-width="0.95"/>
<rect x="239.48" y="359.56" width="4.6" height="28.59" fill="#009B3B"/>
<line x1="249.04" y1="326.59" x2="249.04" y2="367.76" stroke="#009B3B" stroke-width="0.95"/>
<rect x="246.74" y="329.07" width="4.6" height="31.83" fill="#009B3B"/>
<line x1="256.29" y1="319.54" x2="256.29" y2="338.6" stroke="#FF1B3B" stroke-width="0.95"/>
<rect x="253.99" y="329.07" width="4.6" height="6.1" fill="#FF1B3B"/>
<line x1="263.55" y1="312.87" x2="263.55" y2="336.69" stroke="#009B3B" stroke-width="0.95"/>
<rect x="261.25" y="321.45" width="4.6" height="14.29" fill="#009B3B"/>
<line x1="270.81" y1="320.49" x2="270.81" y2="328.12" stroke="#FF1B3B" stroke-width="0.95"/>
<rect x="268.51" y="323.35" width="4.6" height="1.91" fill="#FF1B3B"/>
<line x1="278.07" y1="312.87" x2="278.07" y2="339.55" stroke="#FF1B3B" stroke-width="0.95"/>
<rect x="275.77" y="323.35" width="4.6" height="11.44" fill="#FF1B3B"/>
<line x1="285.33" y1="306.79" x2="285.33" y2="335.76" stroke="#009B3B" stroke-width="0.95"/>
<rect x="283.03" y="314.8" width="4.6" height="20.01" fill="#009B3B"/>
<line x1="292.59" y1="300.51" x2="292.59" y2="323.95" stroke="#009B3B" stroke-width="0.95"/>
<rect x="290.29" y="309.08" width="4.6" height="4.76" fill="#009B3B"/>
<line x1="299.85" y1="305.27" x2="299.85" y2="321.47" stroke="#FF1B3B" stroke-width="0.95"/>
<rect x="297.55" y="309.08" width="4.6" height="3.81" fill="#FF1B3B"/>
<line x1="307.11" y1="309.46" x2="307.11" y2="324.71" stroke="#FF1B3B" stroke-width="0.95"/>
<rect x="304.81" y="311.94" width="4.6" height="4.76" fill="#FF1B3B"/>
<line x1="314.36" y1="317.66" x2="314.36" y2="322.99" stroke="#009B3B" stroke-width="0.95"/>
<rect x="312.06" y="318.99" width="4.6" height="3.05" fill="#009B3B"/>
<line x1="321.62" y1="295.74" x2="321.62" y2="320.14" stroke="#009B3B" stroke-width="0.95"/>
<rect x="319.32" y="300.51" width="4.6" height="18.49" fill="#009B3B"/>
<line x1="328.88" y1="293.83" x2="328.88" y2="311.94" stroke="#009B3B" stroke-width="0.95"/>
<rect x="326.58" y="296.69" width="4.6" height="4.38" fill="#009B3B"/>
<line x1="336.14" y1="292.88" x2="336.14" y2="310.99" stroke="#009B3B" stroke-width="0.95"/>
<rect x="333.84" y="296.31" width="4.6" height="1" fill="#009B3B"/>
<line x1="343.4" y1="291.93" x2="343.4" y2="316.7" stroke="#FF1B3B" stroke-width="0.95"/>
<rect x="341.1" y="296.12" width="4.6" height="11.44" fill="#FF1B3B"/>
<line x1="350.66" y1="305.65" x2="350.66" y2="331" stroke="#FF1B3B" stroke-width="0.95"/>
<rect x="348.36" y="306.79" width="4.6" height="17.53" fill="#FF1B3B"/>
<line x1="357.92" y1="324.9" x2="357.92" y2="331" stroke="#009B3B" stroke-width="0.95"/>
<rect x="355.62" y="327.19" width="4.6" height="1.91" fill="#009B3B"/>
<line x1="365.18" y1="304.32" x2="365.18" y2="327.76" stroke="#009B3B" stroke-width="0.95"/>
<rect x="362.88" y="321.47" width="4.6" height="5.72" fill="#009B3B"/>
<line x1="372.43" y1="306.79" x2="372.43" y2="327.76" stroke="#009B3B" stroke-width="0.95"/>
<rect x="370.13" y="312.89" width="4.6" height="9.15" fill="#009B3B"/>
<line x1="379.69" y1="311.94" x2="379.69" y2="337.67" stroke="#FF1B3B" stroke-width="0.95"/>
<rect x="377.39" y="312.89" width="4.6" height="22.87" fill="#FF1B3B"/>
<line x1="386.95" y1="298.6" x2="386.95" y2="336.72" stroke="#009B3B" stroke-width="0.95"/>
<rect x="384.65" y="311.94" width="4.6" height="23.82" fill="#009B3B"/>
<line x1="394.21" y1="305.84" x2="394.21" y2="320.9" stroke="#FF1B3B" stroke-width="0.95"/>
<rect x="391.91" y="311.94" width="4.6" height="3.81" fill="#FF1B3B"/>
<line x1="401.47" y1="305.27" x2="401.47" y2="331.95" stroke="#FF1B3B" stroke-width="0.95"/>
<rect x="399.17" y="315.75" width="4.6" height="6.29" fill="#FF1B3B"/>
<line x1="408.73" y1="315.75" x2="408.73" y2="333.86" stroke="#009B3B" stroke-width="0.95"/>
<rect x="406.43" y="320.52" width="4.6" height="1.91" fill="#009B3B"/>
<line x1="415.99" y1="289.64" x2="415.99" y2="327.76" stroke="#009B3B" stroke-width="0.95"/>
<rect x="413.69" y="296.69" width="4.6" height="24.78" fill="#009B3B"/>
<line x1="423.24" y1="233.39" x2="423.24" y2="306.76" stroke="#009B3B" stroke-width="0.95"/>
<rect x="420.94" y="266.74" width="4.6" height="31.07" fill="#009B3B"/>
<line x1="430.5" y1="262.49" x2="430.5" y2="341.96" stroke="#FF1B3B" stroke-width="0.95"/>
<rect x="428.2" y="267.06" width="4.6" height="62.51" fill="#FF1B3B"/>
<line x1="437.76" y1="315.28" x2="437.76" y2="384.84" stroke="#FF1B3B" stroke-width="0.95"/>
<rect x="435.46" y="347.11" width="4.6" height="35.83" fill="#FF1B3B"/>
<line x1="445.02" y1="352.45" x2="445.02" y2="382.56" stroke="#009B3B" stroke-width="0.95"/>
<rect x="442.72" y="368.07" width="4.6" height="13.91" fill="#009B3B"/>
<line x1="452.28" y1="338.15" x2="452.28" y2="373.41" stroke="#009B3B" stroke-width="0.95"/>
<rect x="449.98" y="351.49" width="4.6" height="18.11" fill="#009B3B"/>
<line x1="459.54" y1="299.08" x2="459.54" y2="356.26" stroke="#009B3B" stroke-width="0.95"/>
<rect x="457.24" y="306.7" width="4.6" height="44.79" fill="#009B3B"/>
<line x1="466.8" y1="253.97" x2="466.8" y2="309.62" stroke="#009B3B" stroke-width="0.95"/>
<rect x="464.5" y="273.41" width="4.6" height="34.88" fill="#009B3B"/>
<line x1="474.06" y1="236.25" x2="474.06" y2="278.17" stroke="#009B3B" stroke-width="0.95"/>
<rect x="471.76" y="239.49" width="4.6" height="31.64" fill="#009B3B"/>
<line x1="481.31" y1="221" x2="481.31" y2="247.68" stroke="#009B3B" stroke-width="0.95"/>
<rect x="479.01" y="229" width="4.6" height="12.96" fill="#009B3B"/>
<line x1="488.57" y1="208.04" x2="488.57" y2="233.01" stroke="#009B3B" stroke-width="0.95"/>
<rect x="486.27" y="223.86" width="4.6" height="5.72" fill="#009B3B"/>
<line x1="495.83" y1="214.33" x2="495.83" y2="236.25" stroke="#009B3B" stroke-width="0.95"/>
<rect x="493.53" y="216.81" width="4.6" height="8.96" fill="#009B3B"/>
<line x1="503.09" y1="206.32" x2="503.09" y2="222.33" stroke="#009B3B" stroke-width="0.95"/>
<rect x="500.79" y="208.99" width="4.6" height="11.44" fill="#009B3B"/>
<line x1="510.35" y1="168.97" x2="510.35" y2="215.85" stroke="#009B3B" stroke-width="0.95"/>
<rect x="508.05" y="183.45" width="4.6" height="31.26" fill="#009B3B"/>
<line x1="517.61" y1="168.21" x2="517.61" y2="198.7" stroke="#FF1B3B" stroke-width="0.95"/>
<rect x="515.31" y="184.22" width="4.6" height="13.91" fill="#FF1B3B"/>
<line x1="524.87" y1="194.32" x2="524.87" y2="226.72" stroke="#FF1B3B" stroke-width="0.95"/>
<rect x="522.57" y="198.13" width="4.6" height="23.82" fill="#FF1B3B"/>
<line x1="532.13" y1="191.08" x2="532.13" y2="222.9" stroke="#009B3B" stroke-width="0.95"/>
<rect x="529.83" y="194.32" width="4.6" height="28.02" fill="#009B3B"/>
<line x1="539.38" y1="193.36" x2="539.38" y2="213.95" stroke="#FF1B3B" stroke-width="0.95"/>
<rect x="537.08" y="194.32" width="4.6" height="10.48" fill="#FF1B3B"/>
<line x1="546.64" y1="162.49" x2="546.64" y2="212.42" stroke="#009B3B" stroke-width="0.95"/>
<rect x="544.34" y="166.11" width="4.6" height="39.64" fill="#009B3B"/>
<line x1="553.9" y1="162.49" x2="553.9" y2="182.31" stroke="#FF1B3B" stroke-width="0.95"/>
<rect x="551.6" y="163.82" width="4.6" height="12.39" fill="#FF1B3B"/>
<line x1="561.16" y1="170.99" x2="561.16" y2="203.39" stroke="#FF1B3B" stroke-width="0.95"/>
<rect x="558.86" y="176.7" width="4.6" height="21.92" fill="#FF1B3B"/>
<line x1="568.42" y1="192.33" x2="568.42" y2="218.63" stroke="#FF1B3B" stroke-width="0.95"/>
<rect x="566.12" y="198.62" width="4.6" height="15.82" fill="#FF1B3B"/>
<line x1="575.68" y1="196.72" x2="575.68" y2="218.63" stroke="#FF1B3B" stroke-width="0.95"/>
<rect x="573.38" y="215.77" width="4.6" height="1.33" fill="#FF1B3B"/>
<line x1="582.94" y1="195.38" x2="582.94" y2="220.16" stroke="#009B3B" stroke-width="0.95"/>
<rect x="580.64" y="209.1" width="4.6" height="10.48" fill="#009B3B"/>
<line x1="590.19" y1="175.18" x2="590.19" y2="218.25" stroke="#009B3B" stroke-width="0.95"/>
<rect x="587.89" y="187.19" width="4.6" height="23.44" fill="#009B3B"/>
<line x1="597.45" y1="182.42" x2="597.45" y2="212.92" stroke="#FF1B3B" stroke-width="0.95"/>
<rect x="595.15" y="187.19" width="4.6" height="22.3" fill="#FF1B3B"/>
<line x1="604.71" y1="189.66" x2="604.71" y2="225.88" stroke="#FF1B3B" stroke-width="0.95"/>
<rect x="602.41" y="210.06" width="4.6" height="13.91" fill="#FF1B3B"/>
<line x1="611.97" y1="199" x2="611.97" y2="232.93" stroke="#009B3B" stroke-width="0.95"/>
<rect x="609.67" y="204.91" width="4.6" height="19.06" fill="#009B3B"/>
<line x1="619.23" y1="206.25" x2="619.23" y2="253.89" stroke="#FF1B3B" stroke-width="0.95"/>
<rect x="616.93" y="219.59" width="4.6" height="25.35" fill="#FF1B3B"/>
<line x1="626.49" y1="201.1" x2="626.49" y2="247.6" stroke="#009B3B" stroke-width="0.95"/>
<rect x="624.19" y="205.29" width="4.6" height="40.4" fill="#009B3B"/>
<line x1="633.75" y1="187.76" x2="633.75" y2="220.92" stroke="#FF1B3B" stroke-width="0.95"/>
<rect x="631.45" y="205.67" width="4.6" height="14.48" fill="#FF1B3B"/>
<line x1="641.01" y1="199.96" x2="641.01" y2="221.49" stroke="#009B3B" stroke-width="0.95"/>
<rect x="638.71" y="206.82" width="4.6" height="12.77" fill="#009B3B"/>
<line x1="648.26" y1="196.14" x2="648.26" y2="221.49" stroke="#FF1B3B" stroke-width="0.95"/>
<rect x="645.96" y="207.2" width="4.6" height="5.72" fill="#FF1B3B"/>
<line x1="655.52" y1="174.42" x2="655.52" y2="217.11" stroke="#009B3B" stroke-width="0.95"/>
<rect x="653.22" y="188.14" width="4.6" height="27.63" fill="#009B3B"/>
<line x1="662.78" y1="177.09" x2="662.78" y2="195.76" stroke="#009B3B" stroke-width="0.95"/>
<rect x="660.48" y="179.56" width="4.6" height="9.53" fill="#009B3B"/>
<line x1="670.04" y1="154.22" x2="670.04" y2="183.38" stroke="#009B3B" stroke-width="0.95"/>
<rect x="667.74" y="170.03" width="4.6" height="8.58" fill="#009B3B"/>
<line x1="677.3" y1="163.36" x2="677.3" y2="178.23" stroke="#009B3B" stroke-width="0.95"/>
<rect x="675" y="170.03" width="4.6" height="1.33" fill="#009B3B"/>
<line x1="684.56" y1="133.25" x2="684.56" y2="174.8" stroke="#009B3B" stroke-width="0.95"/>
<rect x="682.26" y="135.73" width="4.6" height="35.26" fill="#009B3B"/>
<line x1="691.82" y1="116.67" x2="691.82" y2="140.11" stroke="#009B3B" stroke-width="0.95"/>
<rect x="689.52" y="128.11" width="4.6" height="11.44" fill="#009B3B"/>
<line x1="699.08" y1="119.15" x2="699.08" y2="145.26" stroke="#FF1B3B" stroke-width="0.95"/>
<rect x="696.78" y="128.11" width="4.6" height="16.2" fill="#FF1B3B"/>
<line x1="706.33" y1="139.19" x2="706.33" y2="160.54" stroke="#FF1B3B" stroke-width="0.95"/>
<rect x="704.03" y="145.29" width="4.6" height="11.44" fill="#FF1B3B"/>
<line x1="713.59" y1="143.39" x2="713.59" y2="171.02" stroke="#009B3B" stroke-width="0.95"/>
<rect x="711.29" y="152.92" width="4.6" height="3.81" fill="#009B3B"/>
<line x1="720.85" y1="147.58" x2="720.85" y2="161.49" stroke="#FF1B3B" stroke-width="0.95"/>
<rect x="718.55" y="149.1" width="4.6" height="11.05" fill="#FF1B3B"/>
<line x1="728.11" y1="127.19" x2="728.11" y2="161.49" stroke="#009B3B" stroke-width="0.95"/>
<rect x="725.81" y="132.9" width="4.6" height="23.82" fill="#009B3B"/>
<line x1="735.37" y1="128.52" x2="735.37" y2="148.15" stroke="#FF1B3B" stroke-width="0.95"/>
<rect x="733.07" y="133.48" width="4.6" height="7.62" fill="#FF1B3B"/>
<line x1="742.63" y1="121.47" x2="742.63" y2="145.29" stroke="#009B3B" stroke-width="0.95"/>
<rect x="740.33" y="130.05" width="4.6" height="12.39" fill="#009B3B"/>
<line x1="749.89" y1="110.61" x2="749.89" y2="133.86" stroke="#009B3B" stroke-width="0.95"/>
<rect x="747.59" y="125.28" width="4.6" height="5.72" fill="#009B3B"/>
<line x1="757.14" y1="120.14" x2="757.14" y2="143.39" stroke="#FF1B3B" stroke-width="0.95"/>
<rect x="754.84" y="125.85" width="4.6" height="11.82" fill="#FF1B3B"/>
<line x1="764.4" y1="121.47" x2="764.4" y2="141.1" stroke="#009B3B" stroke-width="0.95"/>
<rect x="762.1" y="131.95" width="4.6" height="8" fill="#009B3B"/>
<line x1="771.66" y1="128.52" x2="771.66" y2="156.73" stroke="#FF1B3B" stroke-width="0.95"/>
<rect x="769.36" y="132.9" width="4.6" height="14.68" fill="#FF1B3B"/>
<line x1="778.92" y1="125.28" x2="778.92" y2="156.73" stroke="#009B3B" stroke-width="0.95"/>
<rect x="776.62" y="133.86" width="4.6" height="13.72" fill="#009B3B"/>
<line x1="786.18" y1="108.13" x2="786.18" y2="138.62" stroke="#009B3B" stroke-width="0.95"/>
<rect x="783.88" y="112.89" width="4.6" height="20.96" fill="#009B3B"/>
<line x1="793.44" y1="105.27" x2="793.44" y2="141.1" stroke="#FF1B3B" stroke-width="0.95"/>
<rect x="791.14" y="113.27" width="4.6" height="10.1" fill="#FF1B3B"/>
<line x1="800.7" y1="108.13" x2="800.7" y2="134.81" stroke="#009B3B" stroke-width="0.95"/>
<rect x="798.4" y="123.95" width="4.6" height="3.81" fill="#009B3B"/>
<line x1="807.96" y1="122.04" x2="807.96" y2="171.02" stroke="#FF1B3B" stroke-width="0.95"/>
<rect x="805.66" y="123.38" width="4.6" height="44.79" fill="#FF1B3B"/>
<line x1="815.21" y1="152.92" x2="815.21" y2="175.79" stroke="#FF1B3B" stroke-width="0.95"/>
<rect x="812.91" y="169.69" width="4.6" height="1.52" fill="#FF1B3B"/>
<line x1="822.47" y1="154.44" x2="822.47" y2="178.07" stroke="#009B3B" stroke-width="0.95"/>
<rect x="820.17" y="156.73" width="4.6" height="15.25" fill="#009B3B"/>
<line x1="829.73" y1="143.39" x2="829.73" y2="163.97" stroke="#FF1B3B" stroke-width="0.95"/>
<rect x="827.43" y="160.92" width="4.6" height="3.05" fill="#FF1B3B"/>
<line x1="836.99" y1="136.14" x2="836.99" y2="184.36" stroke="#009B3B" stroke-width="0.95"/>
<rect x="834.69" y="138.62" width="4.6" height="36.21" fill="#009B3B"/>
<line x1="844.25" y1="101.08" x2="844.25" y2="139.57" stroke="#009B3B" stroke-width="0.95"/>
<rect x="841.95" y="103.74" width="4.6" height="35.45" fill="#009B3B"/>
<line x1="851.51" y1="93.83" x2="851.51" y2="118.61" stroke="#009B3B" stroke-width="0.95"/>
<rect x="849.21" y="95.74" width="4.6" height="12.96" fill="#009B3B"/>
<line x1="858.77" y1="71.35" x2="858.77" y2="100.51" stroke="#009B3B" stroke-width="0.95"/>
<rect x="856.47" y="76.68" width="4.6" height="20.96" fill="#009B3B"/>
<line x1="866.03" y1="69.44" x2="866.03" y2="90.98" stroke="#FF1B3B" stroke-width="0.95"/>
<rect x="863.73" y="78.21" width="4.6" height="1.91" fill="#FF1B3B"/>
<line x1="873.28" y1="72.87" x2="873.28" y2="93.45" stroke="#009B3B" stroke-width="0.95"/>
<rect x="870.98" y="78.21" width="4.6" height="7.05" fill="#009B3B"/>
<line x1="880.54" y1="58.58" x2="880.54" y2="83.35" stroke="#009B3B" stroke-width="0.95"/>
<rect x="878.24" y="71.92" width="4.6" height="7.05" fill="#009B3B"/>
<line x1="887.8" y1="69.06" x2="887.8" y2="127.19" stroke="#FF1B3B" stroke-width="0.95"/>
<rect x="885.5" y="72.87" width="4.6" height="33.35" fill="#FF1B3B"/>
<line x1="895.06" y1="92.88" x2="895.06" y2="120.14" stroke="#009B3B" stroke-width="0.95"/>
<rect x="892.76" y="99.17" width="4.6" height="7.62" fill="#009B3B"/>
<line x1="902.32" y1="90.98" x2="902.32" y2="105.27" stroke="#FF1B3B" stroke-width="0.95"/>
<rect x="900.02" y="99.17" width="4.6" height="4.19" fill="#FF1B3B"/>
<line x1="909.58" y1="98.6" x2="909.58" y2="123.38" stroke="#FF1B3B" stroke-width="0.95"/>
<rect x="907.28" y="100.12" width="4.6" height="16.96" fill="#FF1B3B"/>
<line x1="916.84" y1="101.08" x2="916.84" y2="138.62" stroke="#FF1B3B" stroke-width="0.95"/>
<rect x="914.54" y="118.23" width="4.6" height="3.24" fill="#FF1B3B"/>
<line x1="924.09" y1="109.46" x2="924.09" y2="127.19" stroke="#009B3B" stroke-width="0.95"/>
<rect x="921.79" y="120.14" width="4.6" height="1.52" fill="#009B3B"/>
<line x1="931.35" y1="109.46" x2="931.35" y2="135.76" stroke="#FF1B3B" stroke-width="0.95"/>
<rect x="929.05" y="121.47" width="4.6" height="1.33" fill="#FF1B3B"/>
<line x1="938.61" y1="120.14" x2="938.61" y2="149.1" stroke="#FF1B3B" stroke-width="0.95"/>
<rect x="936.31" y="124.33" width="4.6" height="23.82" fill="#FF1B3B"/>
<line x1="945.87" y1="150.06" x2="945.87" y2="169.12" stroke="#FF1B3B" stroke-width="0.95"/>
<rect x="943.57" y="151.01" width="4.6" height="17.53" fill="#FF1B3B"/>
<line x1="953.13" y1="155.2" x2="953.13" y2="181.88" stroke="#FF1B3B" stroke-width="0.95"/>
<rect x="950.83" y="169.12" width="4.6" height="12.39" fill="#FF1B3B"/>
<line x1="960.39" y1="150.19" x2="960.39" y2="187.04" stroke="#009B3B" stroke-width="0.95"/>
<rect x="958.09" y="169.89" width="4.6" height="12.96" fill="#009B3B"/>
<line x1="967.65" y1="169.25" x2="967.65" y2="183.23" stroke="#FF1B3B" stroke-width="0.95"/>
<rect x="965.35" y="173.44" width="4.6" height="1.52" fill="#FF1B3B"/>
<line x1="974.91" y1="152.1" x2="974.91" y2="175.22" stroke="#FF1B3B" stroke-width="0.95"/>
<rect x="972.61" y="173.06" width="4.6" height="1.91" fill="#FF1B3B"/>
<line x1="982.16" y1="144.47" x2="982.16" y2="175.6" stroke="#009B3B" stroke-width="0.95"/>
<rect x="979.86" y="148.28" width="4.6" height="24.14" fill="#009B3B"/>
<line x1="989.42" y1="134.31" x2="989.42" y2="157.81" stroke="#009B3B" stroke-width="0.95"/>
<rect x="987.12" y="134.94" width="4.6" height="15.88" fill="#009B3B"/>
<line x1="996.68" y1="120.08" x2="996.68" y2="141.3" stroke="#009B3B" stroke-width="0.95"/>
<rect x="994.38" y="120.97" width="4.6" height="17.79" fill="#009B3B"/>
<line x1="1003.94" y1="119.06" x2="1003.94" y2="144.47" stroke="#FF1B3B" stroke-width="0.95"/>
<rect x="1001.64" y="123.51" width="4.6" height="19.06" fill="#FF1B3B"/>
<line x1="1011.2" y1="142.57" x2="1011.2" y2="171.16" stroke="#FF1B3B" stroke-width="0.95"/>
<rect x="1008.9" y="143.2" width="4.6" height="23.51" fill="#FF1B3B"/>
<line x1="1018.46" y1="160.36" x2="1018.46" y2="190.85" stroke="#FF1B3B" stroke-width="0.95"/>
<rect x="1016.16" y="169.25" width="4.6" height="20.33" fill="#FF1B3B"/>
<line x1="1025.72" y1="190.33" x2="1025.72" y2="204.04" stroke="#FF1B3B" stroke-width="0.95"/>
<rect x="1023.42" y="190.83" width="4.6" height="1" fill="#FF1B3B"/>
<line x1="1032.98" y1="179.65" x2="1032.98" y2="228.74" stroke="#FF1B3B" stroke-width="0.95"/>
<rect x="1030.68" y="193.37" width="4.6" height="32.52" fill="#FF1B3B"/>
<line x1="1040.23" y1="211.16" x2="1040.23" y2="241.14" stroke="#FF1B3B" stroke-width="0.95"/>
<rect x="1037.93" y="228.13" width="4.6" height="7.93" fill="#FF1B3B"/>
<line x1="1047.49" y1="232.5" x2="1047.49" y2="240.12" stroke="#FF1B3B" stroke-width="0.95"/>
<rect x="1045.19" y="234.63" width="4.6" height="1.83" fill="#FF1B3B"/>
<rect x="2.6" y="528.3" width="2.0" height="1.3" fill="#009B3B"/>
<polyline fill="none" stroke="#941BE8" stroke-width="1.6" stroke-linejoin="round" points="2.6,359.8 30,359.8 55,360.6 82,359.8 126,360.8 155,361.3 198,360.6 246,361.1 260,360.6 280,360.2 300,359.4 318,358.6 356,356.7 394,354.8 420,353.4 458,352.4 477,350.5 496,349 515,348.2 534,346.7 553,344.8 580,342.7 640,337.5 700,332 760,326.3 820,320.8 900,314.5 980,308.2 1047.7,303"/>
<polyline fill="none" stroke="#FF973B" stroke-width="1.9" stroke-linejoin="round" points="2.86,420.48 11.44,426.2 20.96,431.35 32.4,436.68 45.74,440.11 57.18,441.45 72.42,444.69 85.76,446.59 101.01,447.35 114.35,450.02 129.6,453.83 140,455.28 150.67,456.53 161.35,457.95 172.02,458.84 182.7,459.55 193.37,460.09 211.16,460.97 223.62,461.33 234.29,460.97 243.18,458.84 253.86,455.64 264.53,452.08 275.21,448.52 285.88,444.07 296.56,439.63 307.23,435.18 317.9,430.73 326.8,426.28 335.69,420.95 344.59,415.61 353.49,409.74 362.38,404.94 371.28,399.6 379.99,395.15 420,376.84 429.53,373.41 439.06,370.55 448.59,366.74 458.12,362.93 467.65,359.12 477.18,353.4 486.7,345.77 496.23,339.1 505.76,332.43 515.29,326.72 524.82,321 534.35,316.23 543.88,310.52 553.41,304.8 562.94,299.08 569.99,294.89 580,289.5 600,281 630,270 657.2,260 685,247 710,235.8 740,221.5 765,210 786.7,200 799.1,192.94 810.54,186.27 821.97,181.5 833.41,176.74 840,175.4 849.53,171.97 859.06,168.16 868.59,164.35 878.12,160.54 887.65,157.68 897.18,154.82 906.7,152.92 916.23,151.01 925.76,149.49 935.29,148.15 944.82,147.2 954.35,145.86 960,146.12 969.53,144.79 979.06,142.31 988.59,140.02 998.12,138.12 1007.65,137.16 1017.18,136.59 1026.7,137.16 1036.23,139.07 1043.86,140.98 1047.67,142.5"/>
<polyline fill="none" stroke="#009BBB" stroke-width="1.7" stroke-linejoin="round" points="2.86,473.85 11.44,479.56 20.96,484.71 32.4,489.09 45.74,492.9 60.99,495.38 76.23,495.76 87.67,496.72 99.1,496.14 110.54,492.9 121.97,488.52 133.41,483.38 140,480.01 147.12,474.32 154.23,468.98 161.35,464.53 170.24,459.2 179.14,453.86 188.03,449.41 196.93,446.39 207.6,442.29 218.28,437.85 228.95,434.29 239.63,428.95 248.52,422.73 257.42,412.94 268.09,401.38 278.77,389.81 287.62,381.5 295.25,373.88 304.78,366.26 314.31,359.59 321.93,353.87 331.46,347.2 340.99,340.53 348.61,336.72 356.23,333.86 363.86,328.14 371.48,323.38 379.1,319.56 386.73,317.09 394.35,316.32 403.88,315.75 413.41,315.18 420,312.42 429.53,312.04 439.06,316.23 448.59,319.66 458.12,320.05 467.65,318.14 477.18,314.33 486.7,308.61 496.23,301.94 505.76,294.32 515.29,286.69 524.82,279.07 534.35,270.49 543.88,260.01 553.41,251.44 560,247.6 562.94,245.72 567.62,244.36 575.25,239.6 582.87,229.12 590.49,219.59 598.12,212.92 605.74,209.1 613.36,205.29 620.99,204.91 636.23,204.72 651.48,204.72 662.92,204.34 670.54,201.48 678.16,197.67 685.79,195.76 693.41,193.86 701.03,192.9 709.53,190.08 719.06,185.32 728.59,180.55 738.12,174.83 747.65,171.02 757.18,166.26 766.7,160.54 776.23,155.77 785.76,149.1 795.29,143.01 804.82,141.1 814.35,141.1 823.88,142.05 833.41,143.01 840,142.43 849.53,137.67 859.06,132.9 868.59,128.14 878.12,123.38 887.65,121.47 897.18,120.14 906.7,118.99 916.23,117.09 925.76,116.7 935.29,117.66 944.82,121.47 954.35,122.04 960,121.92 969.53,122.49 979.06,123.25 988.59,124.78 998.12,127.63 1007.65,132.4 1017.18,139.07 1026.7,147.65 1036.23,155.27 1047.67,164.8"/>
<line x1="2.9" y1="397" x2="1265.3" y2="298.3" stroke="#001B3B" stroke-width="1"/>
<line x1="2.4" y1="143.0" x2="1250.6" y2="95.4" stroke="#001B3B" stroke-width="1.6"/>
<line x1="2.8" y1="560.3" x2="1221.4" y2="71" stroke="#001B3B" stroke-width="1.9"/>
<line x1="459" y1="297.2" x2="1214.2" y2="62.4" stroke="#001B3B" stroke-width="1.9"/>
<line x1="757" y1="185.7" x2="1250.6" y2="189.3" stroke="#001B3B" stroke-width="1"/>
<line x1="619.1" y1="253.9" x2="750.5" y2="108.0" stroke="#001B3B" stroke-width="0.9"/>
<line x1="748.6" y1="106.8" x2="829.6" y2="178.1" stroke="#001B3B" stroke-width="0.9"/>
<line x1="836.3" y1="181.5" x2="858.7" y2="63.7" stroke="#001B3B" stroke-width="0.9"/>
<line x1="858.7" y1="63.7" x2="967.1" y2="183.4" stroke="#001B3B" stroke-width="0.9"/>
<line x1="967.1" y1="183.4" x2="996.2" y2="121" stroke="#001B3B" stroke-width="0.9"/>
<line x1="996.2" y1="121" x2="1047.7" y2="240.1" stroke="#001B3B" stroke-width="0.9"/>
</g>
<text x="118.76" y="132.6" font-size="21.9" fill="#000" text-anchor="start" textLength="279.7" lengthAdjust="spacingAndGlyphs" xml:space="preserve">Resistance line from July 2023</text>
<text x="372.37" y="85.3" font-size="21.9" fill="#FF0000" text-anchor="start" textLength="303.63" lengthAdjust="spacingAndGlyphs" xml:space="preserve">Bearish head &amp; shoulders pattern</text>
<text x="664.16" y="52.1" font-size="21.9" fill="#000" text-anchor="start" textLength="185.76" lengthAdjust="spacingAndGlyphs" xml:space="preserve">1.3787 (3-year high)</text>
<text x="880.69" y="49.6" font-size="21.9" fill="#000" text-anchor="start" textLength="14.34" lengthAdjust="spacingAndGlyphs" xml:space="preserve">H</text>
<text x="734.97" y="106.0" font-size="21.9" fill="#000" text-anchor="start" textLength="22.28" lengthAdjust="spacingAndGlyphs" xml:space="preserve">S1</text>
<text x="988.97" y="116.0" font-size="21.9" fill="#000" text-anchor="start" textLength="24.89" lengthAdjust="spacingAndGlyphs" xml:space="preserve">S2</text>
<text x="1229.57" y="104.2" font-size="21.9" fill="#FF0000" text-anchor="start" textLength="62.19" lengthAdjust="spacingAndGlyphs" xml:space="preserve">1.3640</text>
<text x="1236.87" y="144.2" font-size="21.9" fill="#FF0000" text-anchor="start" textLength="62.29" lengthAdjust="spacingAndGlyphs" xml:space="preserve">1.3500</text>
<text x="1149.75" y="187.8" font-size="21.9" fill="#008000" text-anchor="start" textLength="259.88" lengthAdjust="spacingAndGlyphs" xml:space="preserve">1.3360-1.3400 (23.6% Fibo)</text>
<text x="1156.75" y="255.6" font-size="21.9" fill="#008000" text-anchor="start" textLength="188.88" lengthAdjust="spacingAndGlyphs" xml:space="preserve">1.3140 (38.2% Fibo)</text>
<text x="1135.45" y="309.4" font-size="21.9" fill="#008000" text-anchor="start" textLength="242.68" lengthAdjust="spacingAndGlyphs" xml:space="preserve">1.2940-1.3000 (50% Fibo)</text>
<text x="612" y="299.8" font-size="21.9" fill="#FF8C00" text-anchor="start" textLength="73.93" lengthAdjust="spacingAndGlyphs" xml:space="preserve">50-SMA</text>
<text x="690.75" y="362.6" font-size="21.9" fill="#9400D3" text-anchor="start" textLength="86.57" lengthAdjust="spacingAndGlyphs" xml:space="preserve">200-SMA</text>
<text x="255.56" y="428.5" font-size="21.9" fill="#008080" text-anchor="start" textLength="74.06" lengthAdjust="spacingAndGlyphs" xml:space="preserve">20-SMA</text>
<text x="677.28" y="469.9" font-size="44.2" fill="#000" text-anchor="start" textLength="426.89" lengthAdjust="spacingAndGlyphs" xml:space="preserve">GBPUSD - Daily Chart</text>
<text x="6.8" y="14.65" font-size="12.0" fill="#000" text-anchor="start" textLength="237.4" lengthAdjust="spacingAndGlyphs" xml:space="preserve">GBPUSD, Daily:  Great Britain Pound vs US Dollar</text>
<text x="1454.49" y="55.4" font-size="10.6" fill="#B2DBE8" text-anchor="start" textLength="15.79" lengthAdjust="spacingAndGlyphs" xml:space="preserve">0.0</text>
<text x="1407.1" y="176.4" font-size="10.6" fill="#B2DBE8" text-anchor="start" textLength="63.18" lengthAdjust="spacingAndGlyphs" xml:space="preserve">23.61.33891</text>
<text x="1407.1" y="250.8" font-size="10.6" fill="#B2DBE8" text-anchor="start" textLength="63.18" lengthAdjust="spacingAndGlyphs" xml:space="preserve">38.21.31425</text>
<text x="1407.1" y="311.3" font-size="10.6" fill="#B2DBE8" text-anchor="start" textLength="63.18" lengthAdjust="spacingAndGlyphs" xml:space="preserve">50.01.29432</text>
<text x="1407.1" y="371.4" font-size="10.6" fill="#B2DBE8" text-anchor="start" textLength="63.18" lengthAdjust="spacingAndGlyphs" xml:space="preserve">61.81.27438</text>
<text x="1407.1" y="457.4" font-size="10.6" fill="#B2DBE8" text-anchor="start" textLength="63.18" lengthAdjust="spacingAndGlyphs" xml:space="preserve">78.61.24601</text>
<text x="1441.85" y="566.6" font-size="10.6" fill="#B2DBE8" text-anchor="start" textLength="28.43" lengthAdjust="spacingAndGlyphs" xml:space="preserve">100.0</text>
<path d="M2.4 765.3V2.2H1472.9V765.3" fill="none" stroke="#202020" stroke-width="1.2"/>
<line x1="2.4" y1="765.3" x2="1476.9" y2="765.3" stroke="#202020" stroke-width="1.2"/>
<rect x="1.7999999999999998" y="576.05" width="1471.7" height="1.1999999999999544" fill="#fff"/>
<line x1="1.7999999999999998" y1="575.5" x2="1476.4" y2="575.5" stroke="#202020" stroke-width="1.2"/>
<line x1="1.7999999999999998" y1="577.8" x2="1476.9" y2="577.8" stroke="#202020" stroke-width="1.2"/>
<rect x="1.7999999999999998" y="641.25" width="1471.7" height="1.1999999999999544" fill="#fff"/>
<line x1="1.7999999999999998" y1="640.7" x2="1476.4" y2="640.7" stroke="#202020" stroke-width="1.2"/>
<line x1="1.7999999999999998" y1="643.0" x2="1476.9" y2="643.0" stroke="#202020" stroke-width="1.2"/>
<rect x="1.7999999999999998" y="699.4499999999999" width="1471.7" height="1.4" fill="#fff"/>
<line x1="1.7999999999999998" y1="698.9" x2="1476.4" y2="698.9" stroke="#202020" stroke-width="1.2"/>
<line x1="1.7999999999999998" y1="701.4" x2="1476.9" y2="701.4" stroke="#202020" stroke-width="1.2"/>
<line x1="1472.9" y1="24" x2="1476.9" y2="24" stroke="#202020" stroke-width="1"/>
<text x="1478.3" y="28.1" font-size="11.7" fill="#000" text-anchor="start" textLength="40.22" lengthAdjust="spacingAndGlyphs" xml:space="preserve">1.39020</text>
<line x1="1472.9" y1="53.06" x2="1476.9" y2="53.06" stroke="#202020" stroke-width="1"/>
<text x="1478.3" y="57.16" font-size="11.7" fill="#000" text-anchor="start" textLength="40.22" lengthAdjust="spacingAndGlyphs" xml:space="preserve">1.38060</text>
<line x1="1472.9" y1="82.12" x2="1476.9" y2="82.12" stroke="#202020" stroke-width="1"/>
<text x="1478.3" y="86.22" font-size="11.7" fill="#000" text-anchor="start" textLength="40.22" lengthAdjust="spacingAndGlyphs" xml:space="preserve">1.37100</text>
<line x1="1472.9" y1="111.18" x2="1476.9" y2="111.18" stroke="#202020" stroke-width="1"/>
<text x="1478.3" y="115.28" font-size="11.7" fill="#000" text-anchor="start" textLength="40.22" lengthAdjust="spacingAndGlyphs" xml:space="preserve">1.36140</text>
<line x1="1472.9" y1="140.24" x2="1476.9" y2="140.24" stroke="#202020" stroke-width="1"/>
<line x1="1472.9" y1="169.3" x2="1476.9" y2="169.3" stroke="#202020" stroke-width="1"/>
<text x="1478.3" y="173.4" font-size="11.7" fill="#000" text-anchor="start" textLength="40.22" lengthAdjust="spacingAndGlyphs" xml:space="preserve">1.34220</text>
<line x1="1472.9" y1="198.36" x2="1476.9" y2="198.36" stroke="#202020" stroke-width="1"/>
<text x="1478.3" y="202.46" font-size="11.7" fill="#000" text-anchor="start" textLength="40.22" lengthAdjust="spacingAndGlyphs" xml:space="preserve">1.33260</text>
<line x1="1472.9" y1="227.42" x2="1476.9" y2="227.42" stroke="#202020" stroke-width="1"/>
<text x="1478.3" y="231.52" font-size="11.7" fill="#000" text-anchor="start" textLength="40.22" lengthAdjust="spacingAndGlyphs" xml:space="preserve">1.32300</text>
<line x1="1472.9" y1="256.48" x2="1476.9" y2="256.48" stroke="#202020" stroke-width="1"/>
<text x="1478.3" y="260.58" font-size="11.7" fill="#000" text-anchor="start" textLength="40.22" lengthAdjust="spacingAndGlyphs" xml:space="preserve">1.31340</text>
<line x1="1472.9" y1="285.54" x2="1476.9" y2="285.54" stroke="#202020" stroke-width="1"/>
<text x="1478.3" y="289.64" font-size="11.7" fill="#000" text-anchor="start" textLength="40.22" lengthAdjust="spacingAndGlyphs" xml:space="preserve">1.30380</text>
<line x1="1472.9" y1="314.6" x2="1476.9" y2="314.6" stroke="#202020" stroke-width="1"/>
<text x="1478.3" y="318.7" font-size="11.7" fill="#000" text-anchor="start" textLength="40.22" lengthAdjust="spacingAndGlyphs" xml:space="preserve">1.29420</text>
<line x1="1472.9" y1="343.66" x2="1476.9" y2="343.66" stroke="#202020" stroke-width="1"/>
<text x="1478.3" y="347.76" font-size="11.7" fill="#000" text-anchor="start" textLength="40.22" lengthAdjust="spacingAndGlyphs" xml:space="preserve">1.28460</text>
<line x1="1472.9" y1="372.72" x2="1476.9" y2="372.72" stroke="#202020" stroke-width="1"/>
<text x="1478.3" y="376.82" font-size="11.7" fill="#000" text-anchor="start" textLength="40.22" lengthAdjust="spacingAndGlyphs" xml:space="preserve">1.27500</text>
<line x1="1472.9" y1="401.78" x2="1476.9" y2="401.78" stroke="#202020" stroke-width="1"/>
<text x="1478.3" y="405.88" font-size="11.7" fill="#000" text-anchor="start" textLength="40.22" lengthAdjust="spacingAndGlyphs" xml:space="preserve">1.26540</text>
<line x1="1472.9" y1="430.84" x2="1476.9" y2="430.84" stroke="#202020" stroke-width="1"/>
<text x="1478.3" y="434.94" font-size="11.7" fill="#000" text-anchor="start" textLength="40.22" lengthAdjust="spacingAndGlyphs" xml:space="preserve">1.25580</text>
<line x1="1472.9" y1="459.9" x2="1476.9" y2="459.9" stroke="#202020" stroke-width="1"/>
<text x="1478.3" y="464" font-size="11.7" fill="#000" text-anchor="start" textLength="40.22" lengthAdjust="spacingAndGlyphs" xml:space="preserve">1.24620</text>
<line x1="1472.9" y1="488.96" x2="1476.9" y2="488.96" stroke="#202020" stroke-width="1"/>
<text x="1478.3" y="493.06" font-size="11.7" fill="#000" text-anchor="start" textLength="40.22" lengthAdjust="spacingAndGlyphs" xml:space="preserve">1.23660</text>
<line x1="1472.9" y1="518.02" x2="1476.9" y2="518.02" stroke="#202020" stroke-width="1"/>
<text x="1478.3" y="522.12" font-size="11.7" fill="#000" text-anchor="start" textLength="40.22" lengthAdjust="spacingAndGlyphs" xml:space="preserve">1.22700</text>
<line x1="1472.9" y1="547.08" x2="1476.9" y2="547.08" stroke="#202020" stroke-width="1"/>
<text x="1478.3" y="551.18" font-size="11.7" fill="#000" text-anchor="start" textLength="40.22" lengthAdjust="spacingAndGlyphs" xml:space="preserve">1.21740</text>
<rect x="1475.2" y="51.4" width="48.8" height="12.6" fill="#000"/>
<text x="1479.3" y="61.9" font-size="11.7" fill="#fff" text-anchor="start" textLength="40.22" lengthAdjust="spacingAndGlyphs" xml:space="preserve">1.37896</text>
<rect x="1475.2" y="68.7" width="48.8" height="12.6" fill="#000"/>
<text x="1479.3" y="79.2" font-size="11.7" fill="#fff" text-anchor="start" textLength="40.22" lengthAdjust="spacingAndGlyphs" xml:space="preserve">1.37328</text>
<rect x="1475.2" y="96.9" width="48.8" height="12.6" fill="#000"/>
<text x="1479.3" y="107.4" font-size="11.7" fill="#fff" text-anchor="start" textLength="40.22" lengthAdjust="spacingAndGlyphs" xml:space="preserve">1.36391</text>
<rect x="1475.2" y="136.8" width="48.8" height="12.6" fill="#000"/>
<text x="1479.3" y="147.3" font-size="11.7" fill="#fff" text-anchor="start" textLength="40.22" lengthAdjust="spacingAndGlyphs" xml:space="preserve">1.35072</text>
<rect x="1475.2" y="172.2" width="48.8" height="12.6" fill="#000"/>
<text x="1479.3" y="182.7" font-size="11.7" fill="#fff" text-anchor="start" textLength="40.22" lengthAdjust="spacingAndGlyphs" xml:space="preserve">1.33923</text>
<rect x="1475.2" y="183" width="48.8" height="12.6" fill="#000"/>
<text x="1479.3" y="193.5" font-size="11.7" fill="#fff" text-anchor="start" textLength="40.22" lengthAdjust="spacingAndGlyphs" xml:space="preserve">1.33540</text>
<rect x="1475.2" y="230.2" width="48.8" height="12.6" fill="#6E86A6"/>
<text x="1479.3" y="240.7" font-size="11.7" fill="#fff" text-anchor="start" textLength="40.22" lengthAdjust="spacingAndGlyphs" xml:space="preserve">1.32007</text>
<rect x="1475.2" y="247.5" width="48.8" height="12.6" fill="#000"/>
<text x="1479.3" y="258" font-size="11.7" fill="#fff" text-anchor="start" textLength="40.22" lengthAdjust="spacingAndGlyphs" xml:space="preserve">1.31423</text>
<rect x="1475.2" y="290.4" width="48.8" height="12.6" fill="#000"/>
<text x="1479.3" y="300.9" font-size="11.7" fill="#fff" text-anchor="start" textLength="40.22" lengthAdjust="spacingAndGlyphs" xml:space="preserve">1.30004</text>
<rect x="1475.2" y="329.1" width="48.8" height="12.6" fill="#000"/>
<text x="1479.3" y="339.6" font-size="11.7" fill="#fff" text-anchor="start" textLength="40.22" lengthAdjust="spacingAndGlyphs" xml:space="preserve">1.28719</text>
<line x1="2.4" y1="596.6" x2="1472.9" y2="596.6" stroke="#707070" stroke-width="1.1" stroke-dasharray="2.6 2.8"/>
<line x1="1472.9" y1="596.6" x2="1476.9" y2="596.6" stroke="#202020" stroke-width="1"/>
<line x1="2.4" y1="609.4" x2="1472.9" y2="609.4" stroke="#707070" stroke-width="1.1" stroke-dasharray="2.6 2.8"/>
<line x1="1472.9" y1="609.4" x2="1476.9" y2="609.4" stroke="#202020" stroke-width="1"/>
<line x1="2.4" y1="622.1" x2="1472.9" y2="622.1" stroke="#707070" stroke-width="1.1" stroke-dasharray="2.6 2.8"/>
<line x1="1472.9" y1="622.1" x2="1476.9" y2="622.1" stroke="#202020" stroke-width="1"/>
<polyline fill="none" stroke="#1E90FF" stroke-width="0.95" stroke-linejoin="round" points="2.24,620.34 9.5,622.98 16.76,613.66 24.02,612.08 31.27,614.19 38.53,612.08 45.79,606.63 53.05,605.4 60.31,608.03 67.57,608.39 74.83,609.44 82.09,611.02 89.34,607.16 96.6,606.28 103.86,605.05 111.12,608.03 118.38,611.02 125.64,612.43 132.9,608.56 140.16,608.56 147.41,603.29 154.67,602.23 161.93,601 169.19,601.88 176.45,603.29 183.71,600.12 190.97,603.11 198.22,603.29 205.48,601.35 212.74,601.35 220,605.4 227.26,607.51 234.52,602.76 241.78,598.02 249.04,595.38 256.29,596.61 263.55,595.2 270.81,596.26 278.07,598.37 285.33,596.61 292.59,595.38 299.85,596.26 307.11,597.49 314.36,598.37 321.62,596.61 328.88,595.38 336.14,595.2 343.4,598.37 350.66,602.23 357.92,604.52 365.18,603.29 372.43,601.88 379.69,607.16 386.95,603.11 394.21,603.64 401.47,605.4 408.73,605.4 415.99,601.88 423.24,596.96 430.5,608.56 437.76,615.42 445.02,613.84 452.28,611.02 459.54,605.4 466.8,602.23 474.06,600.12 481.31,598.89 488.57,598.37 495.83,598.37 503.09,596.96 510.35,595.2 517.61,598.02 524.87,602.23 532.13,599.25 539.38,601.35 546.64,597.14 553.9,599.25 561.16,602.23 568.42,604.52 575.68,605.4 582.94,604.52 590.19,601.88 597.45,605.05 604.71,607.16 611.97,605.4 619.23,609.79 626.49,605.4 633.75,607.51 641.01,606.28 648.26,607.68 655.52,604.52 662.78,603.64 670.04,603.11 677.3,602.76 684.56,599.25 691.82,598.37 699.08,601 706.33,604.17 713.59,602.76 720.85,604.52 728.11,601 735.37,602.76 742.63,601 749.89,601 757.14,603.11 764.4,603.11 771.66,605.4 778.92,603.64 786.18,601 793.44,603.11 800.7,603.11 807.96,611.02 815.21,611.55 822.47,609.26 829.73,610.32 836.99,606.63 844.25,603.64 851.51,601.35 858.77,599.6 866.03,599.42 873.28,599.42 880.54,598.02 887.8,605.4 895.06,604.52 902.32,605.75 909.58,607.51 916.84,608.39 924.09,608.39 931.35,608.39 938.61,613.31 945.87,616.3 953.13,618.58 960.39,615.42 967.65,615.42 974.91,616.47 982.16,612.08 989.42,608.56 996.68,605.05 1003.94,609.44 1011.2,612.96 1018.46,616.3 1025.72,617.7 1032.98,621.22 1040.23,622.27 1047.49,622.27"/>
<text x="1478.3" y="588.1" font-size="11.7" fill="#000" text-anchor="start" textLength="34.04" lengthAdjust="spacingAndGlyphs" xml:space="preserve">100.00</text>
<text x="1478.3" y="600.7" font-size="11.7" fill="#000" text-anchor="start" textLength="27.85" lengthAdjust="spacingAndGlyphs" xml:space="preserve">70.00</text>
<text x="1478.3" y="613.5" font-size="11.7" fill="#000" text-anchor="start" textLength="27.85" lengthAdjust="spacingAndGlyphs" xml:space="preserve">50.00</text>
<text x="1478.3" y="626.2" font-size="11.7" fill="#000" text-anchor="start" textLength="27.85" lengthAdjust="spacingAndGlyphs" xml:space="preserve">30.00</text>
<text x="1478.3" y="639.1" font-size="11.7" fill="#000" text-anchor="start" textLength="21.66" lengthAdjust="spacingAndGlyphs" xml:space="preserve">0.00</text>
<text x="4.6" y="592.0" font-size="11.8" fill="#000" text-anchor="start" textLength="70.28" lengthAdjust="spacingAndGlyphs" xml:space="preserve">RSI(14) 30.14</text>
<text x="1119.76" y="615.0" font-size="19.0" fill="#000" text-anchor="start" textLength="277.98" lengthAdjust="spacingAndGlyphs" xml:space="preserve">RSI enters oversold zone below 30</text>
<line x1="2.4" y1="653.7" x2="1472.9" y2="653.7" stroke="#C4C4C4" stroke-width="1.1" stroke-dasharray="2.6 2.8"/>
<line x1="1472.9" y1="653.7" x2="1476.9" y2="653.7" stroke="#202020" stroke-width="1"/>
<line x1="2.4" y1="688.5" x2="1472.9" y2="688.5" stroke="#C4C4C4" stroke-width="1.1" stroke-dasharray="2.6 2.8"/>
<line x1="1472.9" y1="688.5" x2="1476.9" y2="688.5" stroke="#202020" stroke-width="1"/>
<polyline fill="none" stroke="#FF0000" stroke-width="1.0" stroke-dasharray="3.2 3.5" points="2.24,680.71 9.5,676.67 16.76,670.87 24.02,666.12 31.27,659.97 38.53,655.58 45.79,652.06 53.05,649.95 60.31,649.43 67.57,652.06 74.83,658.21 82.09,667 89.34,671.75 96.6,669.64 103.86,660.85 111.12,654.7 118.38,656.46 125.64,664.37 132.9,672.8 140.16,677.02 147.41,671.4 154.67,662.08 161.93,652.41 169.19,648.9 176.45,648.2 183.71,649.95 190.97,652.94 198.22,656.98 205.48,661.2 212.74,662.61 220,665.6 227.26,671.75 234.52,677.55 241.78,674.03 249.04,661.73 256.29,650.66 263.55,646.44 270.81,647.14 278.07,648.9 285.33,651.71 292.59,655.58 299.85,657.69 307.11,659.44 314.36,662.61 321.62,664.02 328.88,662.61 336.14,657.34 343.4,654.17 350.66,657.69 357.92,669.64 365.18,681.07 372.43,686.34 379.69,686.34 386.95,681.94 394.21,678.78 401.47,674.03 408.73,672.8 415.99,669.64 423.24,667 430.5,667 437.76,674.03 445.02,683.35 452.28,690.73 459.54,689.85 466.8,681.07 474.06,667 481.31,655.58 488.57,648.9 495.83,646.44 503.09,646.79 510.35,647.67 517.61,649.95 524.87,656.98 532.13,665.77 539.38,673.16 546.64,671.75 553.9,667 561.16,660.85 568.42,664.02 575.68,674.56 582.94,686.34 590.19,689.33 597.45,685.81 604.71,681.59 611.97,681.94 619.23,684.58 626.49,682.82 633.75,679.31 641.01,671.4 648.26,667.53 655.52,662.26 662.78,659.97 670.04,655.93 677.3,654.17 684.56,652.41 691.82,651.18 699.08,650.66 706.33,655.23 713.59,662.61 720.85,671.75 728.11,674.91 735.37,674.03 742.63,666.12 749.89,660.85 757.14,658.74 764.4,662.61 771.66,669.64 778.92,674.91 786.18,674.56 793.44,669.29 800.7,662.61 807.96,664.02 815.21,672.28 822.47,682.82 829.73,687.57 836.99,684.58 844.25,676.32 851.51,664.02 858.77,654.7 866.03,649.43 873.28,649.43 880.54,651.18 887.8,655.93 895.06,662.96 902.32,671.4 909.58,677.55 916.84,681.94 924.09,684.05 931.35,683.7 938.61,683.7 945.87,685.81 953.13,691.61 960.39,695.13 967.65,694.25 974.91,690.38 982.16,684.58 989.42,674.56 996.68,660.85 1003.94,652.94 1011.2,654.7 1018.46,667 1025.72,681.07 1032.98,690.73 1040.23,694.25 1047.49,695.66"/>
<polyline fill="none" stroke="#20B2AA" stroke-width="0.95" stroke-linejoin="round" points="2.24,674.03 9.5,672.28 16.76,666.12 24.02,659.97 31.27,654.7 38.53,651.18 45.79,649.43 53.05,648.55 60.31,650.3 67.57,657.34 74.83,667 82.09,676.14 89.34,672.28 96.6,659.97 103.86,650.3 111.12,653.82 118.38,664.37 125.64,675.26 132.9,678.43 140.16,677.02 147.41,658.21 154.67,651.18 161.93,647.14 169.19,648.55 176.45,649.43 183.71,651.71 190.97,657.34 198.22,661.73 205.48,664.72 212.74,661.73 220,670.52 227.26,683.35 234.52,679.31 241.78,659.97 249.04,645.38 256.29,646.44 263.55,647.14 270.81,648.9 278.07,651.18 285.33,655.58 292.59,660.5 299.85,656.98 307.11,660.85 314.36,666.12 321.62,664.37 328.88,658.21 336.14,649.43 343.4,654.7 350.66,669.64 357.92,684.58 365.18,689.33 372.43,684.58 379.69,684.58 386.95,677.02 394.21,675.26 401.47,669.29 408.73,673.16 415.99,666.12 423.24,661.73 430.5,673.16 437.76,686.34 445.02,694.6 452.28,692.84 459.54,681.94 466.8,667 474.06,652.06 481.31,647.14 488.57,646.44 495.83,647.14 503.09,647.14 510.35,648.55 517.61,654.7 524.87,667.88 532.13,674.03 539.38,678.08 546.64,664.02 553.9,659.44 561.16,658.74 568.42,674.91 575.68,690.38 582.94,694.25 590.19,683.35 597.45,679.31 604.71,682.3 611.97,684.58 619.23,687.57 626.49,675.79 633.75,674.56 641.01,662.61 648.26,664.72 655.52,659.09 662.78,655.93 670.04,652.94 677.3,653.47 684.56,650.66 691.82,649.95 699.08,651.71 706.33,663.49 713.59,672.28 720.85,679.84 728.11,672.28 735.37,669.29 742.63,656.46 749.89,657.34 757.14,661.73 764.4,668.23 771.66,678.43 778.92,677.55 786.18,667.88 793.44,659.97 800.7,657.34 807.96,672.28 815.21,685.11 822.47,689.85 829.73,688.1 836.99,676.67 844.25,665.25 851.51,650.3 858.77,648.55 866.03,648.55 873.28,651.18 880.54,653.47 887.8,663.49 895.06,671.4 902.32,678.78 909.58,681.59 916.84,685.11 924.09,685.11 931.35,681.59 938.61,684.05 945.87,691.61 953.13,698.12 960.39,694.6 967.65,691.08 974.91,685.81 982.16,676.67 989.42,660.85 996.68,645.91 1003.94,650.66 1011.2,665.25 1018.46,684.58 1025.72,692.84 1032.98,695.13 1040.23,695.13 1047.49,695.66"/>
<rect x="3.2" y="645" width="119.4" height="13.7" fill="#fff"/>
<text x="4.6" y="657.0" font-size="11.8" fill="#000" text-anchor="start" textLength="117.77" lengthAdjust="spacingAndGlyphs" xml:space="preserve">Stoch(5,3,3) 4.50 5.69</text>
<text x="1478.3" y="653.7" font-size="11.7" fill="#000" text-anchor="start" textLength="34.04" lengthAdjust="spacingAndGlyphs" xml:space="preserve">100.00</text>
<text x="1478.3" y="658.5" font-size="11.7" fill="#000" text-anchor="start" textLength="27.85" lengthAdjust="spacingAndGlyphs" xml:space="preserve">80.00</text>
<text x="1478.3" y="692.7" font-size="11.7" fill="#000" text-anchor="start" textLength="27.85" lengthAdjust="spacingAndGlyphs" xml:space="preserve">20.00</text>
<text x="1478.3" y="697.6" font-size="11.7" fill="#000" text-anchor="start" textLength="21.66" lengthAdjust="spacingAndGlyphs" xml:space="preserve">0.00</text>
<text x="1106" y="678.4" font-size="19.0" fill="#000" text-anchor="start" textLength="339.45" lengthAdjust="spacingAndGlyphs" xml:space="preserve">Stochastics flatline below 20 oversold level</text>
<line x1="2.4" y1="733.4" x2="1472.9" y2="733.4" stroke="#C4C4C4" stroke-width="1.1" stroke-dasharray="2.6 2.8"/>
<line x1="1472.9" y1="733.4" x2="1476.9" y2="733.4" stroke="#202020" stroke-width="1"/>
<line x1="9.5" y1="733.4" x2="9.5" y2="759.76" stroke="#C0C0C0" stroke-width="1"/>
<line x1="16.76" y1="733.4" x2="16.76" y2="757.13" stroke="#C0C0C0" stroke-width="1"/>
<line x1="24.02" y1="733.4" x2="24.02" y2="755.9" stroke="#C0C0C0" stroke-width="1"/>
<line x1="31.27" y1="733.4" x2="31.27" y2="754.14" stroke="#C0C0C0" stroke-width="1"/>
<line x1="38.53" y1="733.4" x2="38.53" y2="751.85" stroke="#C0C0C0" stroke-width="1"/>
<line x1="45.79" y1="733.4" x2="45.79" y2="747.11" stroke="#C0C0C0" stroke-width="1"/>
<line x1="53.05" y1="733.4" x2="53.05" y2="743.07" stroke="#C0C0C0" stroke-width="1"/>
<line x1="60.31" y1="733.4" x2="60.31" y2="741.31" stroke="#C0C0C0" stroke-width="1"/>
<line x1="67.57" y1="733.4" x2="67.57" y2="740.08" stroke="#C0C0C0" stroke-width="1"/>
<line x1="74.83" y1="733.4" x2="74.83" y2="739.02" stroke="#C0C0C0" stroke-width="1"/>
<line x1="82.09" y1="733.4" x2="82.09" y2="739.02" stroke="#C0C0C0" stroke-width="1"/>
<line x1="89.34" y1="733.4" x2="89.34" y2="737.79" stroke="#C0C0C0" stroke-width="1"/>
<line x1="96.6" y1="733.4" x2="96.6" y2="736.56" stroke="#C0C0C0" stroke-width="1"/>
<line x1="103.86" y1="733.4" x2="103.86" y2="735.16" stroke="#C0C0C0" stroke-width="1"/>
<line x1="111.12" y1="733.4" x2="111.12" y2="734.63" stroke="#C0C0C0" stroke-width="1"/>
<line x1="118.38" y1="733.4" x2="118.38" y2="734.63" stroke="#C0C0C0" stroke-width="1"/>
<line x1="125.64" y1="733.4" x2="125.64" y2="734.8" stroke="#C0C0C0" stroke-width="1"/>
<line x1="132.9" y1="733.4" x2="132.9" y2="734.28" stroke="#C0C0C0" stroke-width="1"/>
<line x1="140.16" y1="733.4" x2="140.16" y2="733.93" stroke="#C0C0C0" stroke-width="1"/>
<line x1="147.41" y1="733.4" x2="147.41" y2="732.52" stroke="#C0C0C0" stroke-width="1"/>
<line x1="154.67" y1="733.4" x2="154.67" y2="730.76" stroke="#C0C0C0" stroke-width="1"/>
<line x1="161.93" y1="733.4" x2="161.93" y2="728.12" stroke="#C0C0C0" stroke-width="1"/>
<line x1="169.19" y1="733.4" x2="169.19" y2="726.02" stroke="#C0C0C0" stroke-width="1"/>
<line x1="176.45" y1="733.4" x2="176.45" y2="724.96" stroke="#C0C0C0" stroke-width="1"/>
<line x1="183.71" y1="733.4" x2="183.71" y2="723.73" stroke="#C0C0C0" stroke-width="1"/>
<line x1="190.97" y1="733.4" x2="190.97" y2="722.85" stroke="#C0C0C0" stroke-width="1"/>
<line x1="198.22" y1="733.4" x2="198.22" y2="722.5" stroke="#C0C0C0" stroke-width="1"/>
<line x1="205.48" y1="733.4" x2="205.48" y2="721.97" stroke="#C0C0C0" stroke-width="1"/>
<line x1="212.74" y1="733.4" x2="212.74" y2="721.09" stroke="#C0C0C0" stroke-width="1"/>
<line x1="220" y1="733.4" x2="220" y2="721.97" stroke="#C0C0C0" stroke-width="1"/>
<line x1="227.26" y1="733.4" x2="227.26" y2="722.85" stroke="#C0C0C0" stroke-width="1"/>
<line x1="234.52" y1="733.4" x2="234.52" y2="721.97" stroke="#C0C0C0" stroke-width="1"/>
<line x1="241.78" y1="733.4" x2="241.78" y2="719.34" stroke="#C0C0C0" stroke-width="1"/>
<line x1="249.04" y1="733.4" x2="249.04" y2="716.35" stroke="#C0C0C0" stroke-width="1"/>
<line x1="256.29" y1="733.4" x2="256.29" y2="714.41" stroke="#C0C0C0" stroke-width="1"/>
<line x1="263.55" y1="733.4" x2="263.55" y2="712.66" stroke="#C0C0C0" stroke-width="1"/>
<line x1="270.81" y1="733.4" x2="270.81" y2="710.9" stroke="#C0C0C0" stroke-width="1"/>
<line x1="278.07" y1="733.4" x2="278.07" y2="710.9" stroke="#C0C0C0" stroke-width="1"/>
<line x1="285.33" y1="733.4" x2="285.33" y2="709.67" stroke="#C0C0C0" stroke-width="1"/>
<line x1="292.59" y1="733.4" x2="292.59" y2="709.14" stroke="#C0C0C0" stroke-width="1"/>
<line x1="299.85" y1="733.4" x2="299.85" y2="708.79" stroke="#C0C0C0" stroke-width="1"/>
<line x1="307.11" y1="733.4" x2="307.11" y2="709.14" stroke="#C0C0C0" stroke-width="1"/>
<line x1="314.36" y1="733.4" x2="314.36" y2="709.67" stroke="#C0C0C0" stroke-width="1"/>
<line x1="321.62" y1="733.4" x2="321.62" y2="709.67" stroke="#C0C0C0" stroke-width="1"/>
<line x1="328.88" y1="733.4" x2="328.88" y2="708.79" stroke="#C0C0C0" stroke-width="1"/>
<line x1="336.14" y1="733.4" x2="336.14" y2="708.79" stroke="#C0C0C0" stroke-width="1"/>
<line x1="343.4" y1="733.4" x2="343.4" y2="709.67" stroke="#C0C0C0" stroke-width="1"/>
<line x1="350.66" y1="733.4" x2="350.66" y2="711.43" stroke="#C0C0C0" stroke-width="1"/>
<line x1="357.92" y1="733.4" x2="357.92" y2="714.94" stroke="#C0C0C0" stroke-width="1"/>
<line x1="365.18" y1="733.4" x2="365.18" y2="716.7" stroke="#C0C0C0" stroke-width="1"/>
<line x1="372.43" y1="733.4" x2="372.43" y2="717.23" stroke="#C0C0C0" stroke-width="1"/>
<line x1="379.69" y1="733.4" x2="379.69" y2="719.34" stroke="#C0C0C0" stroke-width="1"/>
<line x1="386.95" y1="733.4" x2="386.95" y2="719.69" stroke="#C0C0C0" stroke-width="1"/>
<line x1="394.21" y1="733.4" x2="394.21" y2="720.21" stroke="#C0C0C0" stroke-width="1"/>
<line x1="401.47" y1="733.4" x2="401.47" y2="721.44" stroke="#C0C0C0" stroke-width="1"/>
<line x1="408.73" y1="733.4" x2="408.73" y2="721.97" stroke="#C0C0C0" stroke-width="1"/>
<line x1="415.99" y1="733.4" x2="415.99" y2="721.44" stroke="#C0C0C0" stroke-width="1"/>
<line x1="423.24" y1="733.4" x2="423.24" y2="720.74" stroke="#C0C0C0" stroke-width="1"/>
<line x1="430.5" y1="733.4" x2="430.5" y2="722.85" stroke="#C0C0C0" stroke-width="1"/>
<line x1="437.76" y1="733.4" x2="437.76" y2="726.72" stroke="#C0C0C0" stroke-width="1"/>
<line x1="445.02" y1="733.4" x2="445.02" y2="729.88" stroke="#C0C0C0" stroke-width="1"/>
<line x1="452.28" y1="733.4" x2="452.28" y2="731.29" stroke="#C0C0C0" stroke-width="1"/>
<line x1="459.54" y1="733.4" x2="459.54" y2="730.23" stroke="#C0C0C0" stroke-width="1"/>
<line x1="466.8" y1="733.4" x2="466.8" y2="728.12" stroke="#C0C0C0" stroke-width="1"/>
<line x1="474.06" y1="733.4" x2="474.06" y2="723.73" stroke="#C0C0C0" stroke-width="1"/>
<line x1="481.31" y1="733.4" x2="481.31" y2="720.21" stroke="#C0C0C0" stroke-width="1"/>
<line x1="488.57" y1="733.4" x2="488.57" y2="717.23" stroke="#C0C0C0" stroke-width="1"/>
<line x1="495.83" y1="733.4" x2="495.83" y2="714.94" stroke="#C0C0C0" stroke-width="1"/>
<line x1="503.09" y1="733.4" x2="503.09" y2="712.66" stroke="#C0C0C0" stroke-width="1"/>
<line x1="510.35" y1="733.4" x2="510.35" y2="709.67" stroke="#C0C0C0" stroke-width="1"/>
<line x1="517.61" y1="733.4" x2="517.61" y2="707.91" stroke="#C0C0C0" stroke-width="1"/>
<line x1="524.87" y1="733.4" x2="524.87" y2="709.14" stroke="#C0C0C0" stroke-width="1"/>
<line x1="532.13" y1="733.4" x2="532.13" y2="707.91" stroke="#C0C0C0" stroke-width="1"/>
<line x1="539.38" y1="733.4" x2="539.38" y2="707.91" stroke="#C0C0C0" stroke-width="1"/>
<line x1="546.64" y1="733.4" x2="546.64" y2="707.03" stroke="#C0C0C0" stroke-width="1"/>
<line x1="553.9" y1="733.4" x2="553.9" y2="706.15" stroke="#C0C0C0" stroke-width="1"/>
<line x1="561.16" y1="733.4" x2="561.16" y2="707.91" stroke="#C0C0C0" stroke-width="1"/>
<line x1="568.42" y1="733.4" x2="568.42" y2="709.67" stroke="#C0C0C0" stroke-width="1"/>
<line x1="575.68" y1="733.4" x2="575.68" y2="710.9" stroke="#C0C0C0" stroke-width="1"/>
<line x1="582.94" y1="733.4" x2="582.94" y2="712.3" stroke="#C0C0C0" stroke-width="1"/>
<line x1="590.19" y1="733.4" x2="590.19" y2="713.71" stroke="#C0C0C0" stroke-width="1"/>
<line x1="597.45" y1="733.4" x2="597.45" y2="715.47" stroke="#C0C0C0" stroke-width="1"/>
<line x1="604.71" y1="733.4" x2="604.71" y2="717.23" stroke="#C0C0C0" stroke-width="1"/>
<line x1="611.97" y1="733.4" x2="611.97" y2="717.93" stroke="#C0C0C0" stroke-width="1"/>
<line x1="619.23" y1="733.4" x2="619.23" y2="721.44" stroke="#C0C0C0" stroke-width="1"/>
<line x1="626.49" y1="733.4" x2="626.49" y2="721.44" stroke="#C0C0C0" stroke-width="1"/>
<line x1="633.75" y1="733.4" x2="633.75" y2="722.85" stroke="#C0C0C0" stroke-width="1"/>
<line x1="641.01" y1="733.4" x2="641.01" y2="722.85" stroke="#C0C0C0" stroke-width="1"/>
<line x1="648.26" y1="733.4" x2="648.26" y2="723.73" stroke="#C0C0C0" stroke-width="1"/>
<line x1="655.52" y1="733.4" x2="655.52" y2="722.5" stroke="#C0C0C0" stroke-width="1"/>
<line x1="662.78" y1="733.4" x2="662.78" y2="721.97" stroke="#C0C0C0" stroke-width="1"/>
<line x1="670.04" y1="733.4" x2="670.04" y2="721.44" stroke="#C0C0C0" stroke-width="1"/>
<line x1="677.3" y1="733.4" x2="677.3" y2="721.09" stroke="#C0C0C0" stroke-width="1"/>
<line x1="684.56" y1="733.4" x2="684.56" y2="717.58" stroke="#C0C0C0" stroke-width="1"/>
<line x1="691.82" y1="733.4" x2="691.82" y2="716.17" stroke="#C0C0C0" stroke-width="1"/>
<line x1="699.08" y1="733.4" x2="699.08" y2="716.17" stroke="#C0C0C0" stroke-width="1"/>
<line x1="706.33" y1="733.4" x2="706.33" y2="716.17" stroke="#C0C0C0" stroke-width="1"/>
<line x1="713.59" y1="733.4" x2="713.59" y2="716.17" stroke="#C0C0C0" stroke-width="1"/>
<line x1="720.85" y1="733.4" x2="720.85" y2="717.93" stroke="#C0C0C0" stroke-width="1"/>
<line x1="728.11" y1="733.4" x2="728.11" y2="717.58" stroke="#C0C0C0" stroke-width="1"/>
<line x1="735.37" y1="733.4" x2="735.37" y2="717.58" stroke="#C0C0C0" stroke-width="1"/>
<line x1="742.63" y1="733.4" x2="742.63" y2="717.23" stroke="#C0C0C0" stroke-width="1"/>
<line x1="749.89" y1="733.4" x2="749.89" y2="716.7" stroke="#C0C0C0" stroke-width="1"/>
<line x1="757.14" y1="733.4" x2="757.14" y2="717.58" stroke="#C0C0C0" stroke-width="1"/>
<line x1="764.4" y1="733.4" x2="764.4" y2="717.93" stroke="#C0C0C0" stroke-width="1"/>
<line x1="771.66" y1="733.4" x2="771.66" y2="718.98" stroke="#C0C0C0" stroke-width="1"/>
<line x1="778.92" y1="733.4" x2="778.92" y2="718.98" stroke="#C0C0C0" stroke-width="1"/>
<line x1="786.18" y1="733.4" x2="786.18" y2="718.46" stroke="#C0C0C0" stroke-width="1"/>
<line x1="793.44" y1="733.4" x2="793.44" y2="718.46" stroke="#C0C0C0" stroke-width="1"/>
<line x1="800.7" y1="733.4" x2="800.7" y2="718.46" stroke="#C0C0C0" stroke-width="1"/>
<line x1="807.96" y1="733.4" x2="807.96" y2="721.97" stroke="#C0C0C0" stroke-width="1"/>
<line x1="815.21" y1="733.4" x2="815.21" y2="724.26" stroke="#C0C0C0" stroke-width="1"/>
<line x1="822.47" y1="733.4" x2="822.47" y2="724.96" stroke="#C0C0C0" stroke-width="1"/>
<line x1="829.73" y1="733.4" x2="829.73" y2="726.02" stroke="#C0C0C0" stroke-width="1"/>
<line x1="836.99" y1="733.4" x2="836.99" y2="724.61" stroke="#C0C0C0" stroke-width="1"/>
<line x1="844.25" y1="733.4" x2="844.25" y2="722.85" stroke="#C0C0C0" stroke-width="1"/>
<line x1="851.51" y1="733.4" x2="851.51" y2="720.74" stroke="#C0C0C0" stroke-width="1"/>
<line x1="858.77" y1="733.4" x2="858.77" y2="718.98" stroke="#C0C0C0" stroke-width="1"/>
<line x1="866.03" y1="733.4" x2="866.03" y2="718.46" stroke="#C0C0C0" stroke-width="1"/>
<line x1="873.28" y1="733.4" x2="873.28" y2="717.93" stroke="#C0C0C0" stroke-width="1"/>
<line x1="880.54" y1="733.4" x2="880.54" y2="717.58" stroke="#C0C0C0" stroke-width="1"/>
<line x1="887.8" y1="733.4" x2="887.8" y2="720.74" stroke="#C0C0C0" stroke-width="1"/>
<line x1="895.06" y1="733.4" x2="895.06" y2="721.44" stroke="#C0C0C0" stroke-width="1"/>
<line x1="902.32" y1="733.4" x2="902.32" y2="722.5" stroke="#C0C0C0" stroke-width="1"/>
<line x1="909.58" y1="733.4" x2="909.58" y2="723.73" stroke="#C0C0C0" stroke-width="1"/>
<line x1="916.84" y1="733.4" x2="916.84" y2="725.49" stroke="#C0C0C0" stroke-width="1"/>
<line x1="924.09" y1="733.4" x2="924.09" y2="726.37" stroke="#C0C0C0" stroke-width="1"/>
<line x1="931.35" y1="733.4" x2="931.35" y2="727.77" stroke="#C0C0C0" stroke-width="1"/>
<line x1="938.61" y1="733.4" x2="938.61" y2="731.29" stroke="#C0C0C0" stroke-width="1"/>
<line x1="945.87" y1="733.4" x2="945.87" y2="734.8" stroke="#C0C0C0" stroke-width="1"/>
<line x1="953.13" y1="733.4" x2="953.13" y2="738.32" stroke="#C0C0C0" stroke-width="1"/>
<line x1="960.39" y1="733.4" x2="960.39" y2="739.55" stroke="#C0C0C0" stroke-width="1"/>
<line x1="967.65" y1="733.4" x2="967.65" y2="740.43" stroke="#C0C0C0" stroke-width="1"/>
<line x1="974.91" y1="733.4" x2="974.91" y2="740.78" stroke="#C0C0C0" stroke-width="1"/>
<line x1="982.16" y1="733.4" x2="982.16" y2="737.79" stroke="#C0C0C0" stroke-width="1"/>
<line x1="989.42" y1="733.4" x2="989.42" y2="736.03" stroke="#C0C0C0" stroke-width="1"/>
<line x1="996.68" y1="733.4" x2="996.68" y2="734.28" stroke="#C0C0C0" stroke-width="1"/>
<line x1="1003.94" y1="733.4" x2="1003.94" y2="736.56" stroke="#C0C0C0" stroke-width="1"/>
<line x1="1011.2" y1="733.4" x2="1011.2" y2="739.02" stroke="#C0C0C0" stroke-width="1"/>
<line x1="1018.46" y1="733.4" x2="1018.46" y2="741.84" stroke="#C0C0C0" stroke-width="1"/>
<line x1="1025.72" y1="733.4" x2="1025.72" y2="743.94" stroke="#C0C0C0" stroke-width="1"/>
<line x1="1032.98" y1="733.4" x2="1032.98" y2="747.11" stroke="#C0C0C0" stroke-width="1"/>
<line x1="1040.23" y1="733.4" x2="1040.23" y2="748.87" stroke="#C0C0C0" stroke-width="1"/>
<line x1="1047.49" y1="733.4" x2="1047.49" y2="750.98" stroke="#C0C0C0" stroke-width="1"/>
<polyline fill="none" stroke="#FF0000" stroke-width="1.0" stroke-dasharray="3.2 3.5" points="2.24,754.49 9.5,755.9 16.76,756.78 24.02,757.48 31.27,757.48 38.53,757.13 45.79,755.9 53.05,754.49 60.31,752.38 67.57,750.1 74.83,747.81 82.09,745.35 89.34,743.59 96.6,741.84 103.86,739.55 111.12,738.32 118.38,737.26 125.64,736.56 132.9,736.03 140.16,735.16 147.41,734.28 154.67,733.4 161.93,732.52 169.19,731.64 176.45,730.76 183.71,729.53 190.97,727.77 198.22,726.37 205.48,725.14 212.74,724.26 220,723.2 227.26,722.85 234.52,722.5 241.78,721.62 249.04,720.74 256.29,719.69 263.55,718.46 270.81,717.58 278.07,716.7 285.33,715.47 292.59,714.41 299.85,713.18 307.11,711.95 314.36,710.9 321.62,710.2 328.88,710.02 336.14,710.02 343.4,710.02 350.66,710.2 357.92,710.9 365.18,711.95 372.43,712.66 379.69,713.71 386.95,715.47 394.21,716.7 401.47,717.58 408.73,718.81 415.99,719.69 423.24,720.21 430.5,721.09 437.76,721.97 445.02,724.26 452.28,724.96 459.54,726.02 466.8,726.37 474.06,726.37 481.31,726.02 488.57,725.14 495.83,724.26 503.09,722.5 510.35,720.21 517.61,718.46 524.87,716.17 532.13,713.71 539.38,712.3 546.64,710.9 553.9,709.14 561.16,708.44 568.42,708.26 575.68,708.26 582.94,708.79 590.19,709.67 597.45,710.9 604.71,711.95 611.97,713.18 619.23,714.94 626.49,716.17 633.75,717.23 641.01,718.98 648.26,720.21 655.52,720.74 662.78,721.44 670.04,722.5 677.3,722.85 684.56,722.5 691.82,721.97 699.08,721.09 706.33,720.21 713.59,719.34 720.85,718.46 728.11,718.11 735.37,717.58 742.63,717.23 749.89,716.7 757.14,717.23 764.4,717.58 771.66,717.58 778.92,717.58 786.18,717.93 793.44,718.11 800.7,718.11 807.96,718.98 815.21,719.69 822.47,721.09 829.73,721.97 836.99,723.2 844.25,724.08 851.51,724.61 858.77,724.26 866.03,723.73 873.28,722.85 880.54,721.97 887.8,721.09 895.06,721.09 902.32,721.09 909.58,721.09 916.84,721.44 924.09,721.97 931.35,722.5 938.61,724.61 945.87,726.37 953.13,728.12 960.39,730.23 967.65,731.64 974.91,733.4 982.16,735.16 989.42,736.39 996.68,736.91 1003.94,737.26 1011.2,738.14 1018.46,738.32 1025.72,738.67 1032.98,739.55 1040.23,740.78 1047.49,741.84"/>
<text x="4.6" y="715.4" font-size="11.8" fill="#000" text-anchor="start" textLength="188.44" lengthAdjust="spacingAndGlyphs" xml:space="preserve">MACD(12,26,9) -0.007407 -0.003501</text>
<text x="1478.3" y="712.1" font-size="11.7" fill="#000" text-anchor="start" textLength="46.41" lengthAdjust="spacingAndGlyphs" xml:space="preserve">0.015670</text>
<text x="1478.3" y="737.9" font-size="11.7" fill="#000" text-anchor="start" textLength="46.41" lengthAdjust="spacingAndGlyphs" xml:space="preserve">0.000000</text>
<text x="1477" y="763.7" font-size="11.7" fill="#000" text-anchor="start" textLength="50.12" lengthAdjust="spacingAndGlyphs" xml:space="preserve">-0.014866</text>
<text x="1098.26" y="736.4" font-size="19.0" fill="#FF0000" text-anchor="start" textLength="339.21" lengthAdjust="spacingAndGlyphs" xml:space="preserve">MACD falls below red signal and zero lines</text>
<line x1="2.24" y1="765.3" x2="2.24" y2="769.4" stroke="#202020" stroke-width="1.1"/>
<text x="2.49" y="779.5" font-size="11.7" fill="#000" text-anchor="start" textLength="61.15" lengthAdjust="spacingAndGlyphs" xml:space="preserve">16 Jan 2025</text>
<line x1="118.38" y1="765.3" x2="118.38" y2="769.4" stroke="#202020" stroke-width="1.1"/>
<text x="118.63" y="779.5" font-size="11.7" fill="#000" text-anchor="start" textLength="56.2" lengthAdjust="spacingAndGlyphs" xml:space="preserve">7 Feb 2025</text>
<line x1="234.52" y1="765.3" x2="234.52" y2="769.4" stroke="#202020" stroke-width="1.1"/>
<text x="234.77" y="779.5" font-size="11.7" fill="#000" text-anchor="start" textLength="56.19" lengthAdjust="spacingAndGlyphs" xml:space="preserve">3 Mar 2025</text>
<line x1="350.66" y1="765.3" x2="350.66" y2="769.4" stroke="#202020" stroke-width="1.1"/>
<text x="350.91" y="779.5" font-size="11.7" fill="#000" text-anchor="start" textLength="62.37" lengthAdjust="spacingAndGlyphs" xml:space="preserve">21 Mar 2025</text>
<line x1="466.8" y1="765.3" x2="466.8" y2="769.4" stroke="#202020" stroke-width="1.1"/>
<text x="467.05" y="779.5" font-size="11.7" fill="#000" text-anchor="start" textLength="59.7" lengthAdjust="spacingAndGlyphs" xml:space="preserve">11 Apr 2025</text>
<line x1="582.94" y1="765.3" x2="582.94" y2="769.4" stroke="#202020" stroke-width="1.1"/>
<text x="583.19" y="779.5" font-size="11.7" fill="#000" text-anchor="start" textLength="58.05" lengthAdjust="spacingAndGlyphs" xml:space="preserve">5 May 2025</text>
<line x1="699.08" y1="765.3" x2="699.08" y2="769.4" stroke="#202020" stroke-width="1.1"/>
<text x="699.33" y="779.5" font-size="11.7" fill="#000" text-anchor="start" textLength="64.22" lengthAdjust="spacingAndGlyphs" xml:space="preserve">27 May 2025</text>
<line x1="815.21" y1="765.3" x2="815.21" y2="769.4" stroke="#202020" stroke-width="1.1"/>
<text x="815.46" y="779.5" font-size="11.7" fill="#000" text-anchor="start" textLength="61.15" lengthAdjust="spacingAndGlyphs" xml:space="preserve">18 Jun 2025</text>
<line x1="931.35" y1="765.3" x2="931.35" y2="769.4" stroke="#202020" stroke-width="1.1"/>
<text x="931.6" y="779.5" font-size="11.7" fill="#000" text-anchor="start" textLength="57.44" lengthAdjust="spacingAndGlyphs" xml:space="preserve">10 Jul 2025</text>
<line x1="1047.49" y1="765.3" x2="1047.49" y2="769.4" stroke="#202020" stroke-width="1.1"/>
<text x="1047.74" y="779.5" font-size="11.7" fill="#000" text-anchor="start" textLength="56.82" lengthAdjust="spacingAndGlyphs" xml:space="preserve">1 Aug 2025</text>
</svg></body></html>
